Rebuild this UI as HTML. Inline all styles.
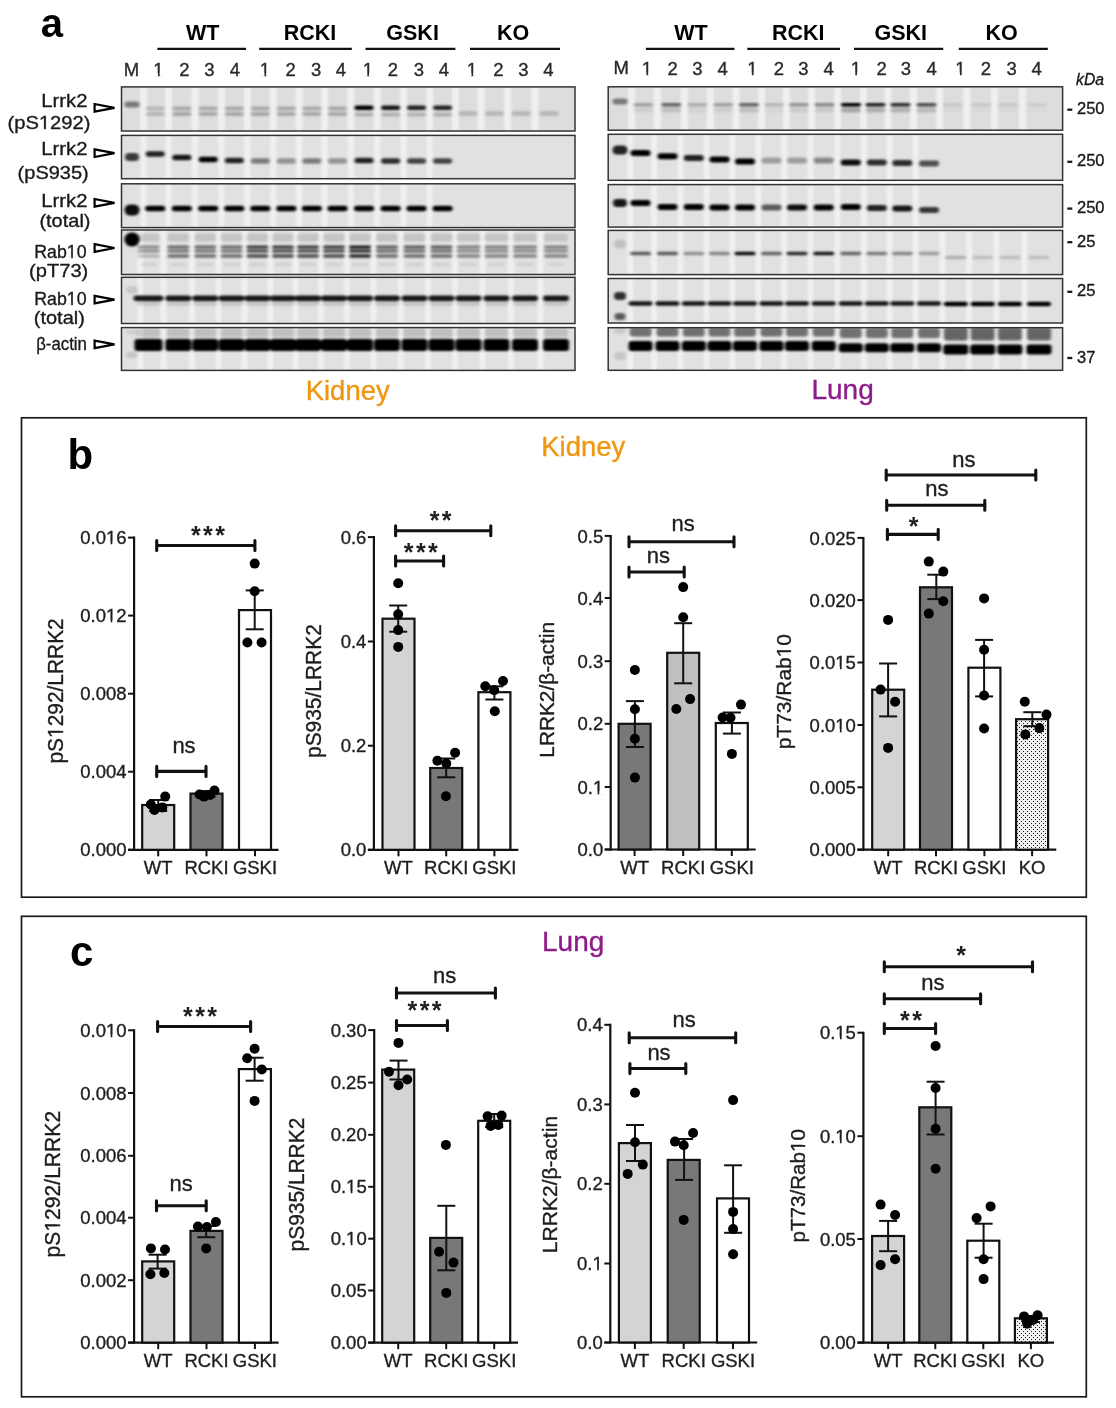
<!DOCTYPE html><html><head><meta charset="utf-8"><style>html,body{margin:0;padding:0;background:#fff;}svg{display:block;will-change:transform;}</style></head><body><svg width="1116" height="1408" viewBox="0 0 1116 1408" font-family='"Liberation Sans", sans-serif'>
<defs><pattern id="stip" width="4" height="4" patternUnits="userSpaceOnUse"><rect width="4" height="4" fill="#f0f0f0"/><rect x="1" y="1" width="1" height="1" fill="#1a1a1a"/><rect x="3" y="3" width="1" height="1" fill="#1a1a1a"/></pattern><filter id="bl1" x="-20%" y="-50%" width="140%" height="200%"><feGaussianBlur stdDeviation="1.5 1.2"/></filter><filter id="bl2" x="-20%" y="-50%" width="140%" height="200%"><feGaussianBlur stdDeviation="1.3 1"/></filter></defs>
<rect width="1116" height="1408" fill="#fff"/>
<rect x="21.5" y="417.8" width="1064.8" height="479.4" fill="none" stroke="#1a1a1a" stroke-width="1.7"/>
<rect x="21.5" y="916.3" width="1064.8" height="480.5" fill="none" stroke="#1a1a1a" stroke-width="1.7"/>
<text x="40.8" y="37.0" font-size="40" text-anchor="start" font-weight="bold" fill="#000" stroke="#000" stroke-width="0" >a</text>
<text x="67.5" y="468.8" font-size="42" text-anchor="start" font-weight="bold" fill="#000" stroke="#000" stroke-width="0" >b</text>
<text x="70.0" y="965.5" font-size="42" text-anchor="start" font-weight="bold" fill="#000" stroke="#000" stroke-width="0" >c</text>
<text x="347.7" y="400.4" font-size="27.5" text-anchor="middle" font-weight="normal" fill="#f0960f" stroke="#f0960f" stroke-width="0.35" >Kidney</text>
<text x="842.6" y="399.0" font-size="28" text-anchor="middle" font-weight="normal" fill="#8e1b8a" stroke="#8e1b8a" stroke-width="0.35" >Lung</text>
<text x="583.3" y="456.0" font-size="27.5" text-anchor="middle" font-weight="normal" fill="#f0960f" stroke="#f0960f" stroke-width="0.35" >Kidney</text>
<text x="573.2" y="951.4" font-size="28" text-anchor="middle" font-weight="normal" fill="#8e1b8a" stroke="#8e1b8a" stroke-width="0.35" >Lung</text>
<line x1="134.1" y1="536.6" x2="134.1" y2="850.8" stroke="#111" stroke-width="2.2"/>
<line x1="128.1" y1="849.8" x2="278.6" y2="849.8" stroke="#111" stroke-width="2.2"/>
<line x1="128.1" y1="537.6" x2="134.1" y2="537.6" stroke="#111" stroke-width="2"/>
<text x="126.6" y="544.2" font-size="18.5" text-anchor="end" font-weight="normal" fill="#1e1e1e" stroke="#1e1e1e" stroke-width="0.35" >0.016</text>
<line x1="128.1" y1="615.6" x2="134.1" y2="615.6" stroke="#111" stroke-width="2"/>
<text x="126.6" y="622.2" font-size="18.5" text-anchor="end" font-weight="normal" fill="#1e1e1e" stroke="#1e1e1e" stroke-width="0.35" >0.012</text>
<line x1="128.1" y1="693.7" x2="134.1" y2="693.7" stroke="#111" stroke-width="2"/>
<text x="126.6" y="700.3" font-size="18.5" text-anchor="end" font-weight="normal" fill="#1e1e1e" stroke="#1e1e1e" stroke-width="0.35" >0.008</text>
<line x1="128.1" y1="771.7" x2="134.1" y2="771.7" stroke="#111" stroke-width="2"/>
<text x="126.6" y="778.3" font-size="18.5" text-anchor="end" font-weight="normal" fill="#1e1e1e" stroke="#1e1e1e" stroke-width="0.35" >0.004</text>
<line x1="128.1" y1="849.8" x2="134.1" y2="849.8" stroke="#111" stroke-width="2"/>
<text x="126.6" y="856.4" font-size="18.5" text-anchor="end" font-weight="normal" fill="#1e1e1e" stroke="#1e1e1e" stroke-width="0.35" >0.000</text>
<rect x="142.2" y="805.0" width="32" height="44.8" fill="#d4d4d4" stroke="#111" stroke-width="2.2"/>
<rect x="190.5" y="793.6" width="32" height="56.2" fill="#787878" stroke="#111" stroke-width="2.2"/>
<rect x="239.0" y="610.1" width="32" height="239.7" fill="#ffffff" stroke="#111" stroke-width="2.2"/>
<line x1="158.2" y1="849.8" x2="158.2" y2="856.3" stroke="#111" stroke-width="2"/>
<text x="158.2" y="874.0" font-size="18.5" text-anchor="middle" font-weight="normal" fill="#1e1e1e" stroke="#1e1e1e" stroke-width="0.35" >WT</text>
<line x1="206.5" y1="849.8" x2="206.5" y2="856.3" stroke="#111" stroke-width="2"/>
<text x="206.5" y="874.0" font-size="18.5" text-anchor="middle" font-weight="normal" fill="#1e1e1e" stroke="#1e1e1e" stroke-width="0.35" >RCKI</text>
<line x1="255.0" y1="849.8" x2="255.0" y2="856.3" stroke="#111" stroke-width="2"/>
<text x="255.0" y="874.0" font-size="18.5" text-anchor="middle" font-weight="normal" fill="#1e1e1e" stroke="#1e1e1e" stroke-width="0.35" >GSKI</text>
<line x1="158.2" y1="800.0" x2="158.2" y2="811.0" stroke="#111" stroke-width="2"/>
<line x1="149.2" y1="800.0" x2="167.2" y2="800.0" stroke="#111" stroke-width="2"/>
<line x1="149.2" y1="811.0" x2="167.2" y2="811.0" stroke="#111" stroke-width="2"/>
<line x1="206.5" y1="791.0" x2="206.5" y2="797.0" stroke="#111" stroke-width="2"/>
<line x1="197.5" y1="791.0" x2="215.5" y2="791.0" stroke="#111" stroke-width="2"/>
<line x1="197.5" y1="797.0" x2="215.5" y2="797.0" stroke="#111" stroke-width="2"/>
<line x1="254.7" y1="590.4" x2="254.7" y2="629.3" stroke="#111" stroke-width="2"/>
<line x1="245.7" y1="590.4" x2="263.7" y2="590.4" stroke="#111" stroke-width="2"/>
<line x1="245.7" y1="629.3" x2="263.7" y2="629.3" stroke="#111" stroke-width="2"/>
<circle cx="150.8" cy="804.5" r="5.0" fill="#000"/>
<circle cx="154.4" cy="810.0" r="5.0" fill="#000"/>
<circle cx="162.3" cy="807.4" r="5.0" fill="#000"/>
<circle cx="165.2" cy="796.6" r="5.0" fill="#000"/>
<circle cx="199.5" cy="794.5" r="5.0" fill="#000"/>
<circle cx="204.0" cy="796.6" r="5.0" fill="#000"/>
<circle cx="210.0" cy="795.0" r="5.0" fill="#000"/>
<circle cx="214.5" cy="790.5" r="5.0" fill="#000"/>
<circle cx="254.7" cy="563.6" r="5.0" fill="#000"/>
<circle cx="254.7" cy="591.2" r="5.0" fill="#000"/>
<circle cx="247.4" cy="642.5" r="5.0" fill="#000"/>
<circle cx="261.6" cy="642.5" r="5.0" fill="#000"/>
<path d="M156.7 540.5V550.5M156.7 545.5H254.9M254.9 540.5V550.5" stroke="#111" stroke-width="3.1" fill="none" stroke-linecap="round"/>
<text x="209.1" y="543.5" font-size="25" text-anchor="middle" font-weight="bold" fill="#1e1e1e" stroke="#1e1e1e" stroke-width="0" letter-spacing="2.4">***</text>
<path d="M156.7 766.4V776.4M156.7 771.4H206.0M206.0 766.4V776.4" stroke="#111" stroke-width="3.1" fill="none" stroke-linecap="round"/>
<text x="184.0" y="752.6" font-size="22" text-anchor="middle" font-weight="normal" fill="#1e1e1e" stroke="#1e1e1e" stroke-width="0.35" >ns</text>
<text transform="translate(62.85,763.50) rotate(-90)" x="0" y="0" font-size="21.67" fill="#1e1e1e" stroke="#1e1e1e" stroke-width="0.35" textLength="145.20" lengthAdjust="spacingAndGlyphs">pS1292/LRRK2</text>
<line x1="373.9" y1="536.1" x2="373.9" y2="850.8" stroke="#111" stroke-width="2.2"/>
<line x1="367.9" y1="849.8" x2="518.4" y2="849.8" stroke="#111" stroke-width="2.2"/>
<line x1="367.9" y1="537.1" x2="373.9" y2="537.1" stroke="#111" stroke-width="2"/>
<text x="366.4" y="543.7" font-size="18.5" text-anchor="end" font-weight="normal" fill="#1e1e1e" stroke="#1e1e1e" stroke-width="0.35" >0.6</text>
<line x1="367.9" y1="641.5" x2="373.9" y2="641.5" stroke="#111" stroke-width="2"/>
<text x="366.4" y="648.1" font-size="18.5" text-anchor="end" font-weight="normal" fill="#1e1e1e" stroke="#1e1e1e" stroke-width="0.35" >0.4</text>
<line x1="367.9" y1="745.7" x2="373.9" y2="745.7" stroke="#111" stroke-width="2"/>
<text x="366.4" y="752.3" font-size="18.5" text-anchor="end" font-weight="normal" fill="#1e1e1e" stroke="#1e1e1e" stroke-width="0.35" >0.2</text>
<line x1="367.9" y1="849.8" x2="373.9" y2="849.8" stroke="#111" stroke-width="2"/>
<text x="366.4" y="856.4" font-size="18.5" text-anchor="end" font-weight="normal" fill="#1e1e1e" stroke="#1e1e1e" stroke-width="0.35" >0.0</text>
<rect x="382.5" y="618.7" width="32" height="231.1" fill="#d4d4d4" stroke="#111" stroke-width="2.2"/>
<rect x="430.2" y="768.0" width="32" height="81.8" fill="#787878" stroke="#111" stroke-width="2.2"/>
<rect x="478.4" y="692.2" width="32" height="157.6" fill="#ffffff" stroke="#111" stroke-width="2.2"/>
<line x1="398.5" y1="849.8" x2="398.5" y2="856.3" stroke="#111" stroke-width="2"/>
<text x="398.5" y="874.0" font-size="18.5" text-anchor="middle" font-weight="normal" fill="#1e1e1e" stroke="#1e1e1e" stroke-width="0.35" >WT</text>
<line x1="446.2" y1="849.8" x2="446.2" y2="856.3" stroke="#111" stroke-width="2"/>
<text x="446.2" y="874.0" font-size="18.5" text-anchor="middle" font-weight="normal" fill="#1e1e1e" stroke="#1e1e1e" stroke-width="0.35" >RCKI</text>
<line x1="494.4" y1="849.8" x2="494.4" y2="856.3" stroke="#111" stroke-width="2"/>
<text x="494.4" y="874.0" font-size="18.5" text-anchor="middle" font-weight="normal" fill="#1e1e1e" stroke="#1e1e1e" stroke-width="0.35" >GSKI</text>
<line x1="398.2" y1="605.5" x2="398.2" y2="631.7" stroke="#111" stroke-width="2"/>
<line x1="389.2" y1="605.5" x2="407.2" y2="605.5" stroke="#111" stroke-width="2"/>
<line x1="389.2" y1="631.7" x2="407.2" y2="631.7" stroke="#111" stroke-width="2"/>
<line x1="446.2" y1="758.5" x2="446.2" y2="777.3" stroke="#111" stroke-width="2"/>
<line x1="437.2" y1="758.5" x2="455.2" y2="758.5" stroke="#111" stroke-width="2"/>
<line x1="437.2" y1="777.3" x2="455.2" y2="777.3" stroke="#111" stroke-width="2"/>
<line x1="494.4" y1="686.3" x2="494.4" y2="699.5" stroke="#111" stroke-width="2"/>
<line x1="485.4" y1="686.3" x2="503.4" y2="686.3" stroke="#111" stroke-width="2"/>
<line x1="485.4" y1="699.5" x2="503.4" y2="699.5" stroke="#111" stroke-width="2"/>
<circle cx="398.2" cy="583.2" r="5.0" fill="#000"/>
<circle cx="398.2" cy="614.3" r="5.0" fill="#000"/>
<circle cx="398.2" cy="630.1" r="5.0" fill="#000"/>
<circle cx="398.2" cy="646.9" r="5.0" fill="#000"/>
<circle cx="437.4" cy="760.7" r="5.0" fill="#000"/>
<circle cx="446.3" cy="763.5" r="5.0" fill="#000"/>
<circle cx="455.1" cy="752.8" r="5.0" fill="#000"/>
<circle cx="445.9" cy="796.2" r="5.0" fill="#000"/>
<circle cx="485.3" cy="686.3" r="5.0" fill="#000"/>
<circle cx="494.2" cy="690.2" r="5.0" fill="#000"/>
<circle cx="503.0" cy="681.0" r="5.0" fill="#000"/>
<circle cx="494.8" cy="711.3" r="5.0" fill="#000"/>
<path d="M395.6 525.7V535.7M395.6 530.7H490.8M490.8 525.7V535.7" stroke="#111" stroke-width="3.1" fill="none" stroke-linecap="round"/>
<text x="441.8" y="528.8" font-size="25" text-anchor="middle" font-weight="bold" fill="#1e1e1e" stroke="#1e1e1e" stroke-width="0" letter-spacing="2.4">**</text>
<path d="M395.6 556.0V566.0M395.6 561.0H443.6M443.6 556.0V566.0" stroke="#111" stroke-width="3.1" fill="none" stroke-linecap="round"/>
<text x="422.0" y="561.1" font-size="25" text-anchor="middle" font-weight="bold" fill="#1e1e1e" stroke="#1e1e1e" stroke-width="0" letter-spacing="2.4">***</text>
<text transform="translate(321.04,758.00) rotate(-90)" x="0" y="0" font-size="21.24" fill="#1e1e1e" stroke="#1e1e1e" stroke-width="0.35" textLength="133.80" lengthAdjust="spacingAndGlyphs">pS935/LRRK2</text>
<line x1="610.7" y1="534.9" x2="610.7" y2="850.5" stroke="#111" stroke-width="2.2"/>
<line x1="604.7" y1="849.5" x2="755.7" y2="849.5" stroke="#111" stroke-width="2.2"/>
<line x1="604.7" y1="535.9" x2="610.7" y2="535.9" stroke="#111" stroke-width="2"/>
<text x="603.2" y="542.5" font-size="18.5" text-anchor="end" font-weight="normal" fill="#1e1e1e" stroke="#1e1e1e" stroke-width="0.35" >0.5</text>
<line x1="604.7" y1="598.0" x2="610.7" y2="598.0" stroke="#111" stroke-width="2"/>
<text x="603.2" y="604.6" font-size="18.5" text-anchor="end" font-weight="normal" fill="#1e1e1e" stroke="#1e1e1e" stroke-width="0.35" >0.4</text>
<line x1="604.7" y1="661.2" x2="610.7" y2="661.2" stroke="#111" stroke-width="2"/>
<text x="603.2" y="667.8" font-size="18.5" text-anchor="end" font-weight="normal" fill="#1e1e1e" stroke="#1e1e1e" stroke-width="0.35" >0.3</text>
<line x1="604.7" y1="723.8" x2="610.7" y2="723.8" stroke="#111" stroke-width="2"/>
<text x="603.2" y="730.4" font-size="18.5" text-anchor="end" font-weight="normal" fill="#1e1e1e" stroke="#1e1e1e" stroke-width="0.35" >0.2</text>
<line x1="604.7" y1="787.0" x2="610.7" y2="787.0" stroke="#111" stroke-width="2"/>
<text x="603.2" y="793.6" font-size="18.5" text-anchor="end" font-weight="normal" fill="#1e1e1e" stroke="#1e1e1e" stroke-width="0.35" >0.1</text>
<line x1="604.7" y1="849.5" x2="610.7" y2="849.5" stroke="#111" stroke-width="2"/>
<text x="603.2" y="856.1" font-size="18.5" text-anchor="end" font-weight="normal" fill="#1e1e1e" stroke="#1e1e1e" stroke-width="0.35" >0.0</text>
<rect x="618.6" y="723.8" width="32" height="125.7" fill="#787878" stroke="#111" stroke-width="2.2"/>
<rect x="667.2" y="652.8" width="32" height="196.7" fill="#c0c0c0" stroke="#111" stroke-width="2.2"/>
<rect x="715.8" y="723.0" width="32" height="126.5" fill="#ffffff" stroke="#111" stroke-width="2.2"/>
<line x1="634.6" y1="849.5" x2="634.6" y2="856.0" stroke="#111" stroke-width="2"/>
<text x="634.6" y="873.7" font-size="18.5" text-anchor="middle" font-weight="normal" fill="#1e1e1e" stroke="#1e1e1e" stroke-width="0.35" >WT</text>
<line x1="683.2" y1="849.5" x2="683.2" y2="856.0" stroke="#111" stroke-width="2"/>
<text x="683.2" y="873.7" font-size="18.5" text-anchor="middle" font-weight="normal" fill="#1e1e1e" stroke="#1e1e1e" stroke-width="0.35" >RCKI</text>
<line x1="731.8" y1="849.5" x2="731.8" y2="856.0" stroke="#111" stroke-width="2"/>
<text x="731.8" y="873.7" font-size="18.5" text-anchor="middle" font-weight="normal" fill="#1e1e1e" stroke="#1e1e1e" stroke-width="0.35" >GSKI</text>
<line x1="634.9" y1="701.1" x2="634.9" y2="747.0" stroke="#111" stroke-width="2"/>
<line x1="625.9" y1="701.1" x2="643.9" y2="701.1" stroke="#111" stroke-width="2"/>
<line x1="625.9" y1="747.0" x2="643.9" y2="747.0" stroke="#111" stroke-width="2"/>
<line x1="683.2" y1="623.2" x2="683.2" y2="683.3" stroke="#111" stroke-width="2"/>
<line x1="674.2" y1="623.2" x2="692.2" y2="623.2" stroke="#111" stroke-width="2"/>
<line x1="674.2" y1="683.3" x2="692.2" y2="683.3" stroke="#111" stroke-width="2"/>
<line x1="731.9" y1="712.5" x2="731.9" y2="733.6" stroke="#111" stroke-width="2"/>
<line x1="722.9" y1="712.5" x2="740.9" y2="712.5" stroke="#111" stroke-width="2"/>
<line x1="722.9" y1="733.6" x2="740.9" y2="733.6" stroke="#111" stroke-width="2"/>
<circle cx="634.9" cy="670.0" r="5.0" fill="#000"/>
<circle cx="634.9" cy="709.2" r="5.0" fill="#000"/>
<circle cx="634.9" cy="738.7" r="5.0" fill="#000"/>
<circle cx="634.9" cy="777.6" r="5.0" fill="#000"/>
<circle cx="683.2" cy="587.1" r="5.0" fill="#000"/>
<circle cx="683.2" cy="617.3" r="5.0" fill="#000"/>
<circle cx="676.3" cy="709.0" r="5.0" fill="#000"/>
<circle cx="690.1" cy="699.1" r="5.0" fill="#000"/>
<circle cx="722.6" cy="717.5" r="5.0" fill="#000"/>
<circle cx="730.5" cy="717.8" r="5.0" fill="#000"/>
<circle cx="741.0" cy="704.6" r="5.0" fill="#000"/>
<circle cx="731.9" cy="753.9" r="5.0" fill="#000"/>
<path d="M629.0 536.8V546.8M629.0 541.8H734.0M734.0 536.8V546.8" stroke="#111" stroke-width="3.1" fill="none" stroke-linecap="round"/>
<text x="683.2" y="530.9" font-size="22" text-anchor="middle" font-weight="normal" fill="#1e1e1e" stroke="#1e1e1e" stroke-width="0.35" >ns</text>
<path d="M629.0 567.0V577.0M629.0 572.0H684.2M684.2 567.0V577.0" stroke="#111" stroke-width="3.1" fill="none" stroke-linecap="round"/>
<text x="658.4" y="562.9" font-size="22" text-anchor="middle" font-weight="normal" fill="#1e1e1e" stroke="#1e1e1e" stroke-width="0.35" >ns</text>
<text transform="translate(554.18,757.66) rotate(-90)" x="0" y="0" font-size="19.63" fill="#1e1e1e" stroke="#1e1e1e" stroke-width="0.35" textLength="135.66" lengthAdjust="spacingAndGlyphs">LRRK2/&#946;-actin</text>
<line x1="863.4" y1="536.9" x2="863.4" y2="850.7" stroke="#111" stroke-width="2.2"/>
<line x1="857.4" y1="849.7" x2="1056.3" y2="849.7" stroke="#111" stroke-width="2.2"/>
<line x1="857.4" y1="537.9" x2="863.4" y2="537.9" stroke="#111" stroke-width="2"/>
<text x="855.9" y="544.5" font-size="18.5" text-anchor="end" font-weight="normal" fill="#1e1e1e" stroke="#1e1e1e" stroke-width="0.35" >0.025</text>
<line x1="857.4" y1="600.1" x2="863.4" y2="600.1" stroke="#111" stroke-width="2"/>
<text x="855.9" y="606.7" font-size="18.5" text-anchor="end" font-weight="normal" fill="#1e1e1e" stroke="#1e1e1e" stroke-width="0.35" >0.020</text>
<line x1="857.4" y1="662.5" x2="863.4" y2="662.5" stroke="#111" stroke-width="2"/>
<text x="855.9" y="669.1" font-size="18.5" text-anchor="end" font-weight="normal" fill="#1e1e1e" stroke="#1e1e1e" stroke-width="0.35" >0.015</text>
<line x1="857.4" y1="725.0" x2="863.4" y2="725.0" stroke="#111" stroke-width="2"/>
<text x="855.9" y="731.6" font-size="18.5" text-anchor="end" font-weight="normal" fill="#1e1e1e" stroke="#1e1e1e" stroke-width="0.35" >0.010</text>
<line x1="857.4" y1="787.3" x2="863.4" y2="787.3" stroke="#111" stroke-width="2"/>
<text x="855.9" y="793.9" font-size="18.5" text-anchor="end" font-weight="normal" fill="#1e1e1e" stroke="#1e1e1e" stroke-width="0.35" >0.005</text>
<line x1="857.4" y1="849.7" x2="863.4" y2="849.7" stroke="#111" stroke-width="2"/>
<text x="855.9" y="856.3" font-size="18.5" text-anchor="end" font-weight="normal" fill="#1e1e1e" stroke="#1e1e1e" stroke-width="0.35" >0.000</text>
<rect x="872.2" y="689.7" width="32" height="160.0" fill="#d4d4d4" stroke="#111" stroke-width="2.2"/>
<rect x="920.0" y="587.3" width="32" height="262.4" fill="#787878" stroke="#111" stroke-width="2.2"/>
<rect x="968.4" y="667.7" width="32" height="182.0" fill="#ffffff" stroke="#111" stroke-width="2.2"/>
<rect x="1016.1" y="719.2" width="32" height="130.5" fill="url(#stip)" stroke="#111" stroke-width="2.2"/>
<line x1="888.2" y1="849.7" x2="888.2" y2="856.2" stroke="#111" stroke-width="2"/>
<text x="888.2" y="873.9" font-size="18.5" text-anchor="middle" font-weight="normal" fill="#1e1e1e" stroke="#1e1e1e" stroke-width="0.35" >WT</text>
<line x1="936.0" y1="849.7" x2="936.0" y2="856.2" stroke="#111" stroke-width="2"/>
<text x="936.0" y="873.9" font-size="18.5" text-anchor="middle" font-weight="normal" fill="#1e1e1e" stroke="#1e1e1e" stroke-width="0.35" >RCKI</text>
<line x1="984.4" y1="849.7" x2="984.4" y2="856.2" stroke="#111" stroke-width="2"/>
<text x="984.4" y="873.9" font-size="18.5" text-anchor="middle" font-weight="normal" fill="#1e1e1e" stroke="#1e1e1e" stroke-width="0.35" >GSKI</text>
<line x1="1032.1" y1="849.7" x2="1032.1" y2="856.2" stroke="#111" stroke-width="2"/>
<text x="1032.1" y="873.9" font-size="18.5" text-anchor="middle" font-weight="normal" fill="#1e1e1e" stroke="#1e1e1e" stroke-width="0.35" >KO</text>
<line x1="888.1" y1="663.5" x2="888.1" y2="716.4" stroke="#111" stroke-width="2"/>
<line x1="879.1" y1="663.5" x2="897.1" y2="663.5" stroke="#111" stroke-width="2"/>
<line x1="879.1" y1="716.4" x2="897.1" y2="716.4" stroke="#111" stroke-width="2"/>
<line x1="936.3" y1="574.7" x2="936.3" y2="599.1" stroke="#111" stroke-width="2"/>
<line x1="927.3" y1="574.7" x2="945.3" y2="574.7" stroke="#111" stroke-width="2"/>
<line x1="927.3" y1="599.1" x2="945.3" y2="599.1" stroke="#111" stroke-width="2"/>
<line x1="984.1" y1="639.9" x2="984.1" y2="696.4" stroke="#111" stroke-width="2"/>
<line x1="975.1" y1="639.9" x2="993.1" y2="639.9" stroke="#111" stroke-width="2"/>
<line x1="975.1" y1="696.4" x2="993.1" y2="696.4" stroke="#111" stroke-width="2"/>
<line x1="1032.3" y1="712.2" x2="1032.3" y2="726.2" stroke="#111" stroke-width="2"/>
<line x1="1023.3" y1="712.2" x2="1041.3" y2="712.2" stroke="#111" stroke-width="2"/>
<line x1="1023.3" y1="726.2" x2="1041.3" y2="726.2" stroke="#111" stroke-width="2"/>
<circle cx="888.1" cy="619.9" r="5.0" fill="#000"/>
<circle cx="880.6" cy="689.6" r="5.0" fill="#000"/>
<circle cx="895.1" cy="701.7" r="5.0" fill="#000"/>
<circle cx="888.1" cy="747.9" r="5.0" fill="#000"/>
<circle cx="928.8" cy="561.6" r="5.0" fill="#000"/>
<circle cx="943.3" cy="571.6" r="5.0" fill="#000"/>
<circle cx="943.3" cy="601.2" r="5.0" fill="#000"/>
<circle cx="928.8" cy="613.6" r="5.0" fill="#000"/>
<circle cx="984.1" cy="598.4" r="5.0" fill="#000"/>
<circle cx="984.1" cy="649.8" r="5.0" fill="#000"/>
<circle cx="984.1" cy="695.5" r="5.0" fill="#000"/>
<circle cx="984.1" cy="728.5" r="5.0" fill="#000"/>
<circle cx="1024.8" cy="701.7" r="5.0" fill="#000"/>
<circle cx="1046.5" cy="714.6" r="5.0" fill="#000"/>
<circle cx="1039.3" cy="728.1" r="5.0" fill="#000"/>
<circle cx="1025.3" cy="734.4" r="5.0" fill="#000"/>
<path d="M886.2 470.0V480.0M886.2 475.0H1035.8M1035.8 470.0V480.0" stroke="#111" stroke-width="3.1" fill="none" stroke-linecap="round"/>
<text x="963.8" y="466.6" font-size="22" text-anchor="middle" font-weight="normal" fill="#1e1e1e" stroke="#1e1e1e" stroke-width="0.35" >ns</text>
<path d="M886.7 500.2V510.2M886.7 505.2H984.8M984.8 500.2V510.2" stroke="#111" stroke-width="3.1" fill="none" stroke-linecap="round"/>
<text x="936.9" y="495.7" font-size="22" text-anchor="middle" font-weight="normal" fill="#1e1e1e" stroke="#1e1e1e" stroke-width="0.35" >ns</text>
<path d="M887.4 529.4V539.4M887.4 534.4H938.2M938.2 529.4V539.4" stroke="#111" stroke-width="3.1" fill="none" stroke-linecap="round"/>
<text x="914.7" y="535.3" font-size="25" text-anchor="middle" font-weight="bold" fill="#1e1e1e" stroke="#1e1e1e" stroke-width="0" letter-spacing="2.4">*</text>
<text transform="translate(791.44,749.30) rotate(-90)" x="0" y="0" font-size="20.28" fill="#1e1e1e" stroke="#1e1e1e" stroke-width="0.35" textLength="115.27" lengthAdjust="spacingAndGlyphs">pT73/Rab10</text>
<line x1="134.1" y1="1029.3" x2="134.1" y2="1343.6" stroke="#111" stroke-width="2.2"/>
<line x1="128.1" y1="1342.6" x2="278.6" y2="1342.6" stroke="#111" stroke-width="2.2"/>
<line x1="128.1" y1="1030.3" x2="134.1" y2="1030.3" stroke="#111" stroke-width="2"/>
<text x="126.6" y="1036.9" font-size="18.5" text-anchor="end" font-weight="normal" fill="#1e1e1e" stroke="#1e1e1e" stroke-width="0.35" >0.010</text>
<line x1="128.1" y1="1093.0" x2="134.1" y2="1093.0" stroke="#111" stroke-width="2"/>
<text x="126.6" y="1099.6" font-size="18.5" text-anchor="end" font-weight="normal" fill="#1e1e1e" stroke="#1e1e1e" stroke-width="0.35" >0.008</text>
<line x1="128.1" y1="1155.8" x2="134.1" y2="1155.8" stroke="#111" stroke-width="2"/>
<text x="126.6" y="1162.4" font-size="18.5" text-anchor="end" font-weight="normal" fill="#1e1e1e" stroke="#1e1e1e" stroke-width="0.35" >0.006</text>
<line x1="128.1" y1="1217.7" x2="134.1" y2="1217.7" stroke="#111" stroke-width="2"/>
<text x="126.6" y="1224.3" font-size="18.5" text-anchor="end" font-weight="normal" fill="#1e1e1e" stroke="#1e1e1e" stroke-width="0.35" >0.004</text>
<line x1="128.1" y1="1280.2" x2="134.1" y2="1280.2" stroke="#111" stroke-width="2"/>
<text x="126.6" y="1286.8" font-size="18.5" text-anchor="end" font-weight="normal" fill="#1e1e1e" stroke="#1e1e1e" stroke-width="0.35" >0.002</text>
<line x1="128.1" y1="1342.6" x2="134.1" y2="1342.6" stroke="#111" stroke-width="2"/>
<text x="126.6" y="1349.2" font-size="18.5" text-anchor="end" font-weight="normal" fill="#1e1e1e" stroke="#1e1e1e" stroke-width="0.35" >0.000</text>
<rect x="142.2" y="1261.4" width="32" height="81.2" fill="#d4d4d4" stroke="#111" stroke-width="2.2"/>
<rect x="190.5" y="1230.9" width="32" height="111.7" fill="#787878" stroke="#111" stroke-width="2.2"/>
<rect x="238.9" y="1069.1" width="32" height="273.5" fill="#ffffff" stroke="#111" stroke-width="2.2"/>
<line x1="158.2" y1="1342.6" x2="158.2" y2="1349.1" stroke="#111" stroke-width="2"/>
<text x="158.2" y="1366.8" font-size="18.5" text-anchor="middle" font-weight="normal" fill="#1e1e1e" stroke="#1e1e1e" stroke-width="0.35" >WT</text>
<line x1="206.5" y1="1342.6" x2="206.5" y2="1349.1" stroke="#111" stroke-width="2"/>
<text x="206.5" y="1366.8" font-size="18.5" text-anchor="middle" font-weight="normal" fill="#1e1e1e" stroke="#1e1e1e" stroke-width="0.35" >RCKI</text>
<line x1="254.9" y1="1342.6" x2="254.9" y2="1349.1" stroke="#111" stroke-width="2"/>
<text x="254.9" y="1366.8" font-size="18.5" text-anchor="middle" font-weight="normal" fill="#1e1e1e" stroke="#1e1e1e" stroke-width="0.35" >GSKI</text>
<line x1="157.6" y1="1254.7" x2="157.6" y2="1268.6" stroke="#111" stroke-width="2"/>
<line x1="148.6" y1="1254.7" x2="166.6" y2="1254.7" stroke="#111" stroke-width="2"/>
<line x1="148.6" y1="1268.6" x2="166.6" y2="1268.6" stroke="#111" stroke-width="2"/>
<line x1="206.2" y1="1226.0" x2="206.2" y2="1237.2" stroke="#111" stroke-width="2"/>
<line x1="197.2" y1="1226.0" x2="215.2" y2="1226.0" stroke="#111" stroke-width="2"/>
<line x1="197.2" y1="1237.2" x2="215.2" y2="1237.2" stroke="#111" stroke-width="2"/>
<line x1="254.6" y1="1057.7" x2="254.6" y2="1080.7" stroke="#111" stroke-width="2"/>
<line x1="245.6" y1="1057.7" x2="263.6" y2="1057.7" stroke="#111" stroke-width="2"/>
<line x1="245.6" y1="1080.7" x2="263.6" y2="1080.7" stroke="#111" stroke-width="2"/>
<circle cx="150.9" cy="1248.4" r="5.0" fill="#000"/>
<circle cx="165.0" cy="1249.5" r="5.0" fill="#000"/>
<circle cx="150.4" cy="1274.2" r="5.0" fill="#000"/>
<circle cx="164.3" cy="1273.0" r="5.0" fill="#000"/>
<circle cx="197.9" cy="1226.5" r="5.0" fill="#000"/>
<circle cx="206.9" cy="1227.1" r="5.0" fill="#000"/>
<circle cx="215.9" cy="1222.0" r="5.0" fill="#000"/>
<circle cx="206.2" cy="1248.4" r="5.0" fill="#000"/>
<circle cx="254.6" cy="1048.7" r="5.0" fill="#000"/>
<circle cx="247.2" cy="1058.3" r="5.0" fill="#000"/>
<circle cx="261.8" cy="1069.5" r="5.0" fill="#000"/>
<circle cx="254.6" cy="1100.9" r="5.0" fill="#000"/>
<path d="M157.6 1021.5V1031.5M157.6 1026.5H250.6M250.6 1021.5V1031.5" stroke="#111" stroke-width="3.1" fill="none" stroke-linecap="round"/>
<text x="201.2" y="1024.8" font-size="25" text-anchor="middle" font-weight="bold" fill="#1e1e1e" stroke="#1e1e1e" stroke-width="0" letter-spacing="2.4">***</text>
<path d="M156.5 1200.8V1210.8M156.5 1205.8H206.2M206.2 1200.8V1210.8" stroke="#111" stroke-width="3.1" fill="none" stroke-linecap="round"/>
<text x="181.1" y="1190.8" font-size="22" text-anchor="middle" font-weight="normal" fill="#1e1e1e" stroke="#1e1e1e" stroke-width="0.35" >ns</text>
<text transform="translate(59.75,1257.41) rotate(-90)" x="0" y="0" font-size="21.67" fill="#1e1e1e" stroke="#1e1e1e" stroke-width="0.35" textLength="146.52" lengthAdjust="spacingAndGlyphs">pS1292/LRRK2</text>
<line x1="374.2" y1="1029.1" x2="374.2" y2="1343.6" stroke="#111" stroke-width="2.2"/>
<line x1="368.2" y1="1342.6" x2="518.0" y2="1342.6" stroke="#111" stroke-width="2.2"/>
<line x1="368.2" y1="1030.1" x2="374.2" y2="1030.1" stroke="#111" stroke-width="2"/>
<text x="366.7" y="1036.7" font-size="18.5" text-anchor="end" font-weight="normal" fill="#1e1e1e" stroke="#1e1e1e" stroke-width="0.35" >0.30</text>
<line x1="368.2" y1="1082.6" x2="374.2" y2="1082.6" stroke="#111" stroke-width="2"/>
<text x="366.7" y="1089.2" font-size="18.5" text-anchor="end" font-weight="normal" fill="#1e1e1e" stroke="#1e1e1e" stroke-width="0.35" >0.25</text>
<line x1="368.2" y1="1134.8" x2="374.2" y2="1134.8" stroke="#111" stroke-width="2"/>
<text x="366.7" y="1141.4" font-size="18.5" text-anchor="end" font-weight="normal" fill="#1e1e1e" stroke="#1e1e1e" stroke-width="0.35" >0.20</text>
<line x1="368.2" y1="1186.8" x2="374.2" y2="1186.8" stroke="#111" stroke-width="2"/>
<text x="366.7" y="1193.4" font-size="18.5" text-anchor="end" font-weight="normal" fill="#1e1e1e" stroke="#1e1e1e" stroke-width="0.35" >0.15</text>
<line x1="368.2" y1="1238.7" x2="374.2" y2="1238.7" stroke="#111" stroke-width="2"/>
<text x="366.7" y="1245.3" font-size="18.5" text-anchor="end" font-weight="normal" fill="#1e1e1e" stroke="#1e1e1e" stroke-width="0.35" >0.10</text>
<line x1="368.2" y1="1290.5" x2="374.2" y2="1290.5" stroke="#111" stroke-width="2"/>
<text x="366.7" y="1297.1" font-size="18.5" text-anchor="end" font-weight="normal" fill="#1e1e1e" stroke="#1e1e1e" stroke-width="0.35" >0.05</text>
<line x1="368.2" y1="1342.6" x2="374.2" y2="1342.6" stroke="#111" stroke-width="2"/>
<text x="366.7" y="1349.2" font-size="18.5" text-anchor="end" font-weight="normal" fill="#1e1e1e" stroke="#1e1e1e" stroke-width="0.35" >0.00</text>
<rect x="382.2" y="1069.6" width="32" height="273.0" fill="#d4d4d4" stroke="#111" stroke-width="2.2"/>
<rect x="430.2" y="1237.9" width="32" height="104.7" fill="#787878" stroke="#111" stroke-width="2.2"/>
<rect x="478.2" y="1120.8" width="32" height="221.8" fill="#ffffff" stroke="#111" stroke-width="2.2"/>
<line x1="398.2" y1="1342.6" x2="398.2" y2="1349.1" stroke="#111" stroke-width="2"/>
<text x="398.2" y="1366.8" font-size="18.5" text-anchor="middle" font-weight="normal" fill="#1e1e1e" stroke="#1e1e1e" stroke-width="0.35" >WT</text>
<line x1="446.2" y1="1342.6" x2="446.2" y2="1349.1" stroke="#111" stroke-width="2"/>
<text x="446.2" y="1366.8" font-size="18.5" text-anchor="middle" font-weight="normal" fill="#1e1e1e" stroke="#1e1e1e" stroke-width="0.35" >RCKI</text>
<line x1="494.2" y1="1342.6" x2="494.2" y2="1349.1" stroke="#111" stroke-width="2"/>
<text x="494.2" y="1366.8" font-size="18.5" text-anchor="middle" font-weight="normal" fill="#1e1e1e" stroke="#1e1e1e" stroke-width="0.35" >GSKI</text>
<line x1="398.5" y1="1060.6" x2="398.5" y2="1079.5" stroke="#111" stroke-width="2"/>
<line x1="389.5" y1="1060.6" x2="407.5" y2="1060.6" stroke="#111" stroke-width="2"/>
<line x1="389.5" y1="1079.5" x2="407.5" y2="1079.5" stroke="#111" stroke-width="2"/>
<line x1="446.3" y1="1205.8" x2="446.3" y2="1270.3" stroke="#111" stroke-width="2"/>
<line x1="437.3" y1="1205.8" x2="455.3" y2="1205.8" stroke="#111" stroke-width="2"/>
<line x1="437.3" y1="1270.3" x2="455.3" y2="1270.3" stroke="#111" stroke-width="2"/>
<line x1="494.2" y1="1114.0" x2="494.2" y2="1127.0" stroke="#111" stroke-width="2"/>
<line x1="485.2" y1="1114.0" x2="503.2" y2="1114.0" stroke="#111" stroke-width="2"/>
<line x1="485.2" y1="1127.0" x2="503.2" y2="1127.0" stroke="#111" stroke-width="2"/>
<circle cx="398.5" cy="1042.9" r="5.0" fill="#000"/>
<circle cx="389.0" cy="1071.7" r="5.0" fill="#000"/>
<circle cx="407.2" cy="1079.5" r="5.0" fill="#000"/>
<circle cx="398.5" cy="1085.3" r="5.0" fill="#000"/>
<circle cx="445.9" cy="1144.9" r="5.0" fill="#000"/>
<circle cx="439.1" cy="1251.7" r="5.0" fill="#000"/>
<circle cx="453.5" cy="1262.6" r="5.0" fill="#000"/>
<circle cx="446.3" cy="1292.9" r="5.0" fill="#000"/>
<circle cx="487.6" cy="1116.2" r="5.0" fill="#000"/>
<circle cx="501.6" cy="1115.6" r="5.0" fill="#000"/>
<circle cx="490.6" cy="1125.9" r="5.0" fill="#000"/>
<circle cx="498.3" cy="1124.9" r="5.0" fill="#000"/>
<path d="M396.5 988.0V998.0M396.5 993.0H495.4M495.4 988.0V998.0" stroke="#111" stroke-width="3.1" fill="none" stroke-linecap="round"/>
<text x="444.7" y="982.9" font-size="22" text-anchor="middle" font-weight="normal" fill="#1e1e1e" stroke="#1e1e1e" stroke-width="0.35" >ns</text>
<path d="M396.5 1020.5V1030.5M396.5 1025.5H447.4M447.4 1020.5V1030.5" stroke="#111" stroke-width="3.1" fill="none" stroke-linecap="round"/>
<text x="425.7" y="1019.4" font-size="25" text-anchor="middle" font-weight="bold" fill="#1e1e1e" stroke="#1e1e1e" stroke-width="0" letter-spacing="2.4">***</text>
<text transform="translate(304.25,1251.40) rotate(-90)" x="0" y="0" font-size="21.67" fill="#1e1e1e" stroke="#1e1e1e" stroke-width="0.35" textLength="133.70" lengthAdjust="spacingAndGlyphs">pS935/LRRK2</text>
<line x1="610.3" y1="1023.8" x2="610.3" y2="1343.5" stroke="#111" stroke-width="2.2"/>
<line x1="604.3" y1="1342.5" x2="757.2" y2="1342.5" stroke="#111" stroke-width="2.2"/>
<line x1="604.3" y1="1024.8" x2="610.3" y2="1024.8" stroke="#111" stroke-width="2"/>
<text x="602.8" y="1031.4" font-size="18.5" text-anchor="end" font-weight="normal" fill="#1e1e1e" stroke="#1e1e1e" stroke-width="0.35" >0.4</text>
<line x1="604.3" y1="1104.4" x2="610.3" y2="1104.4" stroke="#111" stroke-width="2"/>
<text x="602.8" y="1111.0" font-size="18.5" text-anchor="end" font-weight="normal" fill="#1e1e1e" stroke="#1e1e1e" stroke-width="0.35" >0.3</text>
<line x1="604.3" y1="1183.8" x2="610.3" y2="1183.8" stroke="#111" stroke-width="2"/>
<text x="602.8" y="1190.4" font-size="18.5" text-anchor="end" font-weight="normal" fill="#1e1e1e" stroke="#1e1e1e" stroke-width="0.35" >0.2</text>
<line x1="604.3" y1="1263.5" x2="610.3" y2="1263.5" stroke="#111" stroke-width="2"/>
<text x="602.8" y="1270.1" font-size="18.5" text-anchor="end" font-weight="normal" fill="#1e1e1e" stroke="#1e1e1e" stroke-width="0.35" >0.1</text>
<line x1="604.3" y1="1342.5" x2="610.3" y2="1342.5" stroke="#111" stroke-width="2"/>
<text x="602.8" y="1349.1" font-size="18.5" text-anchor="end" font-weight="normal" fill="#1e1e1e" stroke="#1e1e1e" stroke-width="0.35" >0.0</text>
<rect x="618.9" y="1143.1" width="32" height="199.4" fill="#d4d4d4" stroke="#111" stroke-width="2.2"/>
<rect x="667.7" y="1159.9" width="32" height="182.6" fill="#787878" stroke="#111" stroke-width="2.2"/>
<rect x="717.0" y="1198.4" width="32" height="144.1" fill="#ffffff" stroke="#111" stroke-width="2.2"/>
<line x1="634.9" y1="1342.5" x2="634.9" y2="1349.0" stroke="#111" stroke-width="2"/>
<text x="634.9" y="1366.7" font-size="18.5" text-anchor="middle" font-weight="normal" fill="#1e1e1e" stroke="#1e1e1e" stroke-width="0.35" >WT</text>
<line x1="683.7" y1="1342.5" x2="683.7" y2="1349.0" stroke="#111" stroke-width="2"/>
<text x="683.7" y="1366.7" font-size="18.5" text-anchor="middle" font-weight="normal" fill="#1e1e1e" stroke="#1e1e1e" stroke-width="0.35" >RCKI</text>
<line x1="733.0" y1="1342.5" x2="733.0" y2="1349.0" stroke="#111" stroke-width="2"/>
<text x="733.0" y="1366.7" font-size="18.5" text-anchor="middle" font-weight="normal" fill="#1e1e1e" stroke="#1e1e1e" stroke-width="0.35" >GSKI</text>
<line x1="635.0" y1="1125.0" x2="635.0" y2="1161.0" stroke="#111" stroke-width="2"/>
<line x1="626.0" y1="1125.0" x2="644.0" y2="1125.0" stroke="#111" stroke-width="2"/>
<line x1="626.0" y1="1161.0" x2="644.0" y2="1161.0" stroke="#111" stroke-width="2"/>
<line x1="684.1" y1="1139.0" x2="684.1" y2="1179.9" stroke="#111" stroke-width="2"/>
<line x1="675.1" y1="1139.0" x2="693.1" y2="1139.0" stroke="#111" stroke-width="2"/>
<line x1="675.1" y1="1179.9" x2="693.1" y2="1179.9" stroke="#111" stroke-width="2"/>
<line x1="733.1" y1="1165.3" x2="733.1" y2="1232.8" stroke="#111" stroke-width="2"/>
<line x1="724.1" y1="1165.3" x2="742.1" y2="1165.3" stroke="#111" stroke-width="2"/>
<line x1="724.1" y1="1232.8" x2="742.1" y2="1232.8" stroke="#111" stroke-width="2"/>
<circle cx="635.0" cy="1092.8" r="5.0" fill="#000"/>
<circle cx="635.0" cy="1142.3" r="5.0" fill="#000"/>
<circle cx="642.8" cy="1164.6" r="5.0" fill="#000"/>
<circle cx="627.7" cy="1173.9" r="5.0" fill="#000"/>
<circle cx="675.0" cy="1141.6" r="5.0" fill="#000"/>
<circle cx="693.1" cy="1133.0" r="5.0" fill="#000"/>
<circle cx="683.7" cy="1145.3" r="5.0" fill="#000"/>
<circle cx="683.7" cy="1219.9" r="5.0" fill="#000"/>
<circle cx="733.1" cy="1100.1" r="5.0" fill="#000"/>
<circle cx="733.1" cy="1211.9" r="5.0" fill="#000"/>
<circle cx="733.1" cy="1229.1" r="5.0" fill="#000"/>
<circle cx="733.1" cy="1254.3" r="5.0" fill="#000"/>
<path d="M629.2 1032.7V1042.7M629.2 1037.7H735.7M735.7 1032.7V1042.7" stroke="#111" stroke-width="3.1" fill="none" stroke-linecap="round"/>
<text x="684.1" y="1026.8" font-size="22" text-anchor="middle" font-weight="normal" fill="#1e1e1e" stroke="#1e1e1e" stroke-width="0.35" >ns</text>
<path d="M629.9 1063.5V1073.5M629.9 1068.5H685.8M685.8 1063.5V1073.5" stroke="#111" stroke-width="3.1" fill="none" stroke-linecap="round"/>
<text x="659.0" y="1059.7" font-size="22" text-anchor="middle" font-weight="normal" fill="#1e1e1e" stroke="#1e1e1e" stroke-width="0.35" >ns</text>
<text transform="translate(556.95,1253.28) rotate(-90)" x="0" y="0" font-size="20.71" fill="#1e1e1e" stroke="#1e1e1e" stroke-width="0.35" textLength="137.40" lengthAdjust="spacingAndGlyphs">LRRK2/&#946;-actin</text>
<line x1="863.4" y1="1031.7" x2="863.4" y2="1343.6" stroke="#111" stroke-width="2.2"/>
<line x1="857.4" y1="1342.6" x2="1054.0" y2="1342.6" stroke="#111" stroke-width="2.2"/>
<line x1="857.4" y1="1032.7" x2="863.4" y2="1032.7" stroke="#111" stroke-width="2"/>
<text x="855.9" y="1039.3" font-size="18.5" text-anchor="end" font-weight="normal" fill="#1e1e1e" stroke="#1e1e1e" stroke-width="0.35" >0.15</text>
<line x1="857.4" y1="1136.2" x2="863.4" y2="1136.2" stroke="#111" stroke-width="2"/>
<text x="855.9" y="1142.8" font-size="18.5" text-anchor="end" font-weight="normal" fill="#1e1e1e" stroke="#1e1e1e" stroke-width="0.35" >0.10</text>
<line x1="857.4" y1="1239.0" x2="863.4" y2="1239.0" stroke="#111" stroke-width="2"/>
<text x="855.9" y="1245.6" font-size="18.5" text-anchor="end" font-weight="normal" fill="#1e1e1e" stroke="#1e1e1e" stroke-width="0.35" >0.05</text>
<line x1="857.4" y1="1342.6" x2="863.4" y2="1342.6" stroke="#111" stroke-width="2"/>
<text x="855.9" y="1349.2" font-size="18.5" text-anchor="end" font-weight="normal" fill="#1e1e1e" stroke="#1e1e1e" stroke-width="0.35" >0.00</text>
<rect x="872.1" y="1236.0" width="32" height="106.6" fill="#d4d4d4" stroke="#111" stroke-width="2.2"/>
<rect x="919.3" y="1107.3" width="32" height="235.3" fill="#787878" stroke="#111" stroke-width="2.2"/>
<rect x="967.3" y="1240.7" width="32" height="101.9" fill="#ffffff" stroke="#111" stroke-width="2.2"/>
<rect x="1014.9" y="1318.3" width="32" height="24.3" fill="url(#stip)" stroke="#111" stroke-width="2.2"/>
<line x1="888.1" y1="1342.6" x2="888.1" y2="1349.1" stroke="#111" stroke-width="2"/>
<text x="888.1" y="1366.8" font-size="18.5" text-anchor="middle" font-weight="normal" fill="#1e1e1e" stroke="#1e1e1e" stroke-width="0.35" >WT</text>
<line x1="935.3" y1="1342.6" x2="935.3" y2="1349.1" stroke="#111" stroke-width="2"/>
<text x="935.3" y="1366.8" font-size="18.5" text-anchor="middle" font-weight="normal" fill="#1e1e1e" stroke="#1e1e1e" stroke-width="0.35" >RCKI</text>
<line x1="983.3" y1="1342.6" x2="983.3" y2="1349.1" stroke="#111" stroke-width="2"/>
<text x="983.3" y="1366.8" font-size="18.5" text-anchor="middle" font-weight="normal" fill="#1e1e1e" stroke="#1e1e1e" stroke-width="0.35" >GSKI</text>
<line x1="1030.9" y1="1342.6" x2="1030.9" y2="1349.1" stroke="#111" stroke-width="2"/>
<text x="1030.9" y="1366.8" font-size="18.5" text-anchor="middle" font-weight="normal" fill="#1e1e1e" stroke="#1e1e1e" stroke-width="0.35" >KO</text>
<line x1="888.1" y1="1220.9" x2="888.1" y2="1251.2" stroke="#111" stroke-width="2"/>
<line x1="879.1" y1="1220.9" x2="897.1" y2="1220.9" stroke="#111" stroke-width="2"/>
<line x1="879.1" y1="1251.2" x2="897.1" y2="1251.2" stroke="#111" stroke-width="2"/>
<line x1="935.6" y1="1081.7" x2="935.6" y2="1134.5" stroke="#111" stroke-width="2"/>
<line x1="926.6" y1="1081.7" x2="944.6" y2="1081.7" stroke="#111" stroke-width="2"/>
<line x1="926.6" y1="1134.5" x2="944.6" y2="1134.5" stroke="#111" stroke-width="2"/>
<line x1="983.6" y1="1223.7" x2="983.6" y2="1257.7" stroke="#111" stroke-width="2"/>
<line x1="974.6" y1="1223.7" x2="992.6" y2="1223.7" stroke="#111" stroke-width="2"/>
<line x1="974.6" y1="1257.7" x2="992.6" y2="1257.7" stroke="#111" stroke-width="2"/>
<line x1="1030.9" y1="1316.0" x2="1030.9" y2="1322.0" stroke="#111" stroke-width="2"/>
<line x1="1021.9" y1="1316.0" x2="1039.9" y2="1316.0" stroke="#111" stroke-width="2"/>
<line x1="1021.9" y1="1322.0" x2="1039.9" y2="1322.0" stroke="#111" stroke-width="2"/>
<circle cx="880.6" cy="1204.6" r="5.0" fill="#000"/>
<circle cx="895.1" cy="1215.0" r="5.0" fill="#000"/>
<circle cx="895.1" cy="1259.3" r="5.0" fill="#000"/>
<circle cx="880.6" cy="1265.1" r="5.0" fill="#000"/>
<circle cx="935.6" cy="1046.0" r="5.0" fill="#000"/>
<circle cx="935.6" cy="1088.0" r="5.0" fill="#000"/>
<circle cx="935.6" cy="1128.7" r="5.0" fill="#000"/>
<circle cx="935.6" cy="1168.8" r="5.0" fill="#000"/>
<circle cx="990.6" cy="1206.4" r="5.0" fill="#000"/>
<circle cx="976.6" cy="1218.1" r="5.0" fill="#000"/>
<circle cx="983.6" cy="1259.3" r="5.0" fill="#000"/>
<circle cx="983.6" cy="1279.1" r="5.0" fill="#000"/>
<circle cx="1024.1" cy="1316.4" r="5.0" fill="#000"/>
<circle cx="1037.6" cy="1315.2" r="5.0" fill="#000"/>
<circle cx="1027.2" cy="1323.8" r="5.0" fill="#000"/>
<circle cx="1033.0" cy="1319.9" r="5.0" fill="#000"/>
<path d="M884.3 961.8V971.8M884.3 966.8H1032.5M1032.5 961.8V971.8" stroke="#111" stroke-width="3.1" fill="none" stroke-linecap="round"/>
<text x="962.4" y="964.2" font-size="25" text-anchor="middle" font-weight="bold" fill="#1e1e1e" stroke="#1e1e1e" stroke-width="0" letter-spacing="2.4">*</text>
<path d="M884.3 993.7V1003.7M884.3 998.7H980.6M980.6 993.7V1003.7" stroke="#111" stroke-width="3.1" fill="none" stroke-linecap="round"/>
<text x="932.8" y="989.9" font-size="22" text-anchor="middle" font-weight="normal" fill="#1e1e1e" stroke="#1e1e1e" stroke-width="0.35" >ns</text>
<path d="M884.3 1023.5V1033.5M884.3 1028.5H935.6M935.6 1023.5V1033.5" stroke="#111" stroke-width="3.1" fill="none" stroke-linecap="round"/>
<text x="912.2" y="1029.4" font-size="25" text-anchor="middle" font-weight="bold" fill="#1e1e1e" stroke="#1e1e1e" stroke-width="0" letter-spacing="2.4">**</text>
<text transform="translate(804.79,1242.48) rotate(-90)" x="0" y="0" font-size="20.06" fill="#1e1e1e" stroke="#1e1e1e" stroke-width="0.35" textLength="113.33" lengthAdjust="spacingAndGlyphs">pT73/Rab10</text>
<clipPath id="ck0"><rect x="121.5" y="86.9" width="453.5" height="44.099999999999994"/></clipPath>
<rect x="121.5" y="86.9" width="453.5" height="44.099999999999994" fill="#dddddd"/>
<g clip-path="url(#ck0)"><g filter="url(#bl2)">
<rect x="140.1" y="86.9" width="7" height="44.099999999999994" fill="#f0f0f0"/>
<rect x="165.0" y="86.9" width="7" height="44.099999999999994" fill="#f0f0f0"/>
<rect x="191.5" y="86.9" width="7" height="44.099999999999994" fill="#f0f0f0"/>
<rect x="217.8" y="86.9" width="7" height="44.099999999999994" fill="#f0f0f0"/>
<rect x="243.8" y="86.9" width="7" height="44.099999999999994" fill="#f0f0f0"/>
<rect x="269.8" y="86.9" width="7" height="44.099999999999994" fill="#f0f0f0"/>
<rect x="295.6" y="86.9" width="7" height="44.099999999999994" fill="#f0f0f0"/>
<rect x="321.1" y="86.9" width="7" height="44.099999999999994" fill="#f0f0f0"/>
<rect x="347.2" y="86.9" width="7" height="44.099999999999994" fill="#f0f0f0"/>
<rect x="373.8" y="86.9" width="7" height="44.099999999999994" fill="#f0f0f0"/>
<rect x="400.1" y="86.9" width="7" height="44.099999999999994" fill="#f0f0f0"/>
<rect x="426.1" y="86.9" width="7" height="44.099999999999994" fill="#f0f0f0"/>
<rect x="451.8" y="86.9" width="7" height="44.099999999999994" fill="#f0f0f0"/>
<rect x="477.6" y="86.9" width="7" height="44.099999999999994" fill="#f0f0f0"/>
<rect x="504.1" y="86.9" width="7" height="44.099999999999994" fill="#f0f0f0"/>
<rect x="531.5" y="86.9" width="7" height="44.099999999999994" fill="#f0f0f0"/>
</g>
<g filter="url(#bl1)">
<rect x="124.5" y="101.5" width="15" height="6" rx="3.0" fill="#000" fill-opacity="0.45"/>
<rect x="145.7" y="106.5" width="19" height="4" rx="2.0" fill="#000" fill-opacity="0.18"/>
<rect x="145.7" y="112.0" width="19" height="4" rx="2.0" fill="#000" fill-opacity="0.18"/>
<rect x="172.3" y="106.5" width="19" height="4" rx="2.0" fill="#000" fill-opacity="0.24"/>
<rect x="172.3" y="112.0" width="19" height="4" rx="2.0" fill="#000" fill-opacity="0.24"/>
<rect x="198.7" y="106.5" width="19" height="4" rx="2.0" fill="#000" fill-opacity="0.24"/>
<rect x="198.7" y="112.0" width="19" height="4" rx="2.0" fill="#000" fill-opacity="0.24"/>
<rect x="224.8" y="106.5" width="19" height="4" rx="2.0" fill="#000" fill-opacity="0.24"/>
<rect x="224.8" y="112.0" width="19" height="4" rx="2.0" fill="#000" fill-opacity="0.24"/>
<rect x="250.8" y="106.5" width="19" height="4" rx="2.0" fill="#000" fill-opacity="0.24"/>
<rect x="250.8" y="112.0" width="19" height="4" rx="2.0" fill="#000" fill-opacity="0.24"/>
<rect x="276.8" y="106.5" width="19" height="4" rx="2.0" fill="#000" fill-opacity="0.24"/>
<rect x="276.8" y="112.0" width="19" height="4" rx="2.0" fill="#000" fill-opacity="0.24"/>
<rect x="302.3" y="106.5" width="19" height="4" rx="2.0" fill="#000" fill-opacity="0.24"/>
<rect x="302.3" y="112.0" width="19" height="4" rx="2.0" fill="#000" fill-opacity="0.24"/>
<rect x="328.0" y="106.5" width="19" height="4" rx="2.0" fill="#000" fill-opacity="0.24"/>
<rect x="328.0" y="112.0" width="19" height="4" rx="2.0" fill="#000" fill-opacity="0.24"/>
<rect x="354.5" y="105.5" width="19" height="4.5" rx="2.2" fill="#000" fill-opacity="1.0"/>
<rect x="354.5" y="112.5" width="19" height="4" rx="2.0" fill="#000" fill-opacity="0.2"/>
<rect x="381.1" y="105.5" width="19" height="4.5" rx="2.2" fill="#000" fill-opacity="0.9"/>
<rect x="381.1" y="112.5" width="19" height="4" rx="2.0" fill="#000" fill-opacity="0.2"/>
<rect x="407.0" y="105.5" width="19" height="4.5" rx="2.2" fill="#000" fill-opacity="0.85"/>
<rect x="407.0" y="112.5" width="19" height="4" rx="2.0" fill="#000" fill-opacity="0.2"/>
<rect x="433.1" y="105.5" width="19" height="4.5" rx="2.2" fill="#000" fill-opacity="0.85"/>
<rect x="433.1" y="112.5" width="19" height="4" rx="2.0" fill="#000" fill-opacity="0.2"/>
<rect x="458.5" y="111.0" width="19" height="5" rx="2.5" fill="#000" fill-opacity="0.17"/>
<rect x="484.8" y="111.0" width="19" height="5" rx="2.5" fill="#000" fill-opacity="0.17"/>
<rect x="511.5" y="111.0" width="19" height="5" rx="2.5" fill="#000" fill-opacity="0.17"/>
<rect x="539.5" y="111.0" width="19" height="5" rx="2.5" fill="#000" fill-opacity="0.17"/>
</g></g>
<rect x="121.5" y="86.9" width="453.5" height="44.099999999999994" fill="none" stroke="#333" stroke-width="1.5"/>
<clipPath id="ck1"><rect x="121.5" y="135.4" width="453.5" height="43.29999999999998"/></clipPath>
<rect x="121.5" y="135.4" width="453.5" height="43.29999999999998" fill="#e1e1e1"/>
<g clip-path="url(#ck1)"><g filter="url(#bl2)">
<rect x="140.6" y="135.4" width="6" height="43.29999999999998" fill="#f0f0f0"/>
<rect x="165.5" y="135.4" width="6" height="43.29999999999998" fill="#f0f0f0"/>
<rect x="192.0" y="135.4" width="6" height="43.29999999999998" fill="#f0f0f0"/>
<rect x="218.2" y="135.4" width="6" height="43.29999999999998" fill="#f0f0f0"/>
<rect x="244.3" y="135.4" width="6" height="43.29999999999998" fill="#f0f0f0"/>
<rect x="270.3" y="135.4" width="6" height="43.29999999999998" fill="#f0f0f0"/>
<rect x="296.1" y="135.4" width="6" height="43.29999999999998" fill="#f0f0f0"/>
<rect x="321.6" y="135.4" width="6" height="43.29999999999998" fill="#f0f0f0"/>
<rect x="347.8" y="135.4" width="6" height="43.29999999999998" fill="#f0f0f0"/>
<rect x="374.3" y="135.4" width="6" height="43.29999999999998" fill="#f0f0f0"/>
<rect x="400.6" y="135.4" width="6" height="43.29999999999998" fill="#f0f0f0"/>
<rect x="426.6" y="135.4" width="6" height="43.29999999999998" fill="#f0f0f0"/>
</g>
<g filter="url(#bl1)">
<rect x="125.0" y="153.0" width="14" height="8" rx="4.0" fill="#000" fill-opacity="0.75"/>
<rect x="145.7" y="151.2" width="19" height="5.5" rx="2.8" fill="#000" fill-opacity="0.85"/>
<rect x="172.3" y="154.8" width="19" height="5.5" rx="2.8" fill="#000" fill-opacity="0.9"/>
<rect x="198.7" y="156.8" width="19" height="5.5" rx="2.8" fill="#000" fill-opacity="1.0"/>
<rect x="224.8" y="157.8" width="19" height="5.5" rx="2.8" fill="#000" fill-opacity="0.85"/>
<rect x="250.8" y="158.2" width="19" height="5.5" rx="2.8" fill="#000" fill-opacity="0.45"/>
<rect x="276.8" y="158.2" width="19" height="5.5" rx="2.8" fill="#000" fill-opacity="0.35"/>
<rect x="302.3" y="158.2" width="19" height="5.5" rx="2.8" fill="#000" fill-opacity="0.45"/>
<rect x="328.0" y="158.2" width="19" height="5.5" rx="2.8" fill="#000" fill-opacity="0.35"/>
<rect x="354.5" y="157.8" width="19" height="5.5" rx="2.8" fill="#000" fill-opacity="0.85"/>
<rect x="381.1" y="158.2" width="19" height="5.5" rx="2.8" fill="#000" fill-opacity="0.8"/>
<rect x="407.0" y="158.2" width="19" height="5.5" rx="2.8" fill="#000" fill-opacity="0.7"/>
<rect x="433.1" y="158.2" width="19" height="5.5" rx="2.8" fill="#000" fill-opacity="0.7"/>
</g></g>
<rect x="121.5" y="135.4" width="453.5" height="43.29999999999998" fill="none" stroke="#333" stroke-width="1.5"/>
<clipPath id="ck2"><rect x="121.5" y="183.8" width="453.5" height="43.79999999999998"/></clipPath>
<rect x="121.5" y="183.8" width="453.5" height="43.79999999999998" fill="#e1e1e1"/>
<g clip-path="url(#ck2)"><g filter="url(#bl2)">
<rect x="140.6" y="183.8" width="6" height="43.79999999999998" fill="#f0f0f0"/>
<rect x="165.5" y="183.8" width="6" height="43.79999999999998" fill="#f0f0f0"/>
<rect x="192.0" y="183.8" width="6" height="43.79999999999998" fill="#f0f0f0"/>
<rect x="218.2" y="183.8" width="6" height="43.79999999999998" fill="#f0f0f0"/>
<rect x="244.3" y="183.8" width="6" height="43.79999999999998" fill="#f0f0f0"/>
<rect x="270.3" y="183.8" width="6" height="43.79999999999998" fill="#f0f0f0"/>
<rect x="296.1" y="183.8" width="6" height="43.79999999999998" fill="#f0f0f0"/>
<rect x="321.6" y="183.8" width="6" height="43.79999999999998" fill="#f0f0f0"/>
<rect x="347.8" y="183.8" width="6" height="43.79999999999998" fill="#f0f0f0"/>
<rect x="374.3" y="183.8" width="6" height="43.79999999999998" fill="#f0f0f0"/>
<rect x="400.6" y="183.8" width="6" height="43.79999999999998" fill="#f0f0f0"/>
<rect x="426.6" y="183.8" width="6" height="43.79999999999998" fill="#f0f0f0"/>
</g>
<g filter="url(#bl1)">
<rect x="124.5" y="204.5" width="15" height="11" rx="5.5" fill="#000" fill-opacity="0.95"/>
<rect x="145.2" y="205.8" width="20" height="5.5" rx="2.8" fill="#000" fill-opacity="1.0"/>
<rect x="171.8" y="205.8" width="20" height="5.5" rx="2.8" fill="#000" fill-opacity="1.0"/>
<rect x="198.2" y="205.8" width="20" height="5.5" rx="2.8" fill="#000" fill-opacity="1.0"/>
<rect x="224.3" y="205.8" width="20" height="5.5" rx="2.8" fill="#000" fill-opacity="1.0"/>
<rect x="250.3" y="205.8" width="20" height="5.5" rx="2.8" fill="#000" fill-opacity="1.0"/>
<rect x="276.3" y="205.8" width="20" height="5.5" rx="2.8" fill="#000" fill-opacity="1.0"/>
<rect x="301.8" y="205.8" width="20" height="5.5" rx="2.8" fill="#000" fill-opacity="1.0"/>
<rect x="327.5" y="205.8" width="20" height="5.5" rx="2.8" fill="#000" fill-opacity="1.0"/>
<rect x="354.0" y="205.8" width="20" height="5.5" rx="2.8" fill="#000" fill-opacity="1.0"/>
<rect x="380.6" y="205.8" width="20" height="5.5" rx="2.8" fill="#000" fill-opacity="1.0"/>
<rect x="406.5" y="205.8" width="20" height="5.5" rx="2.8" fill="#000" fill-opacity="1.0"/>
<rect x="432.6" y="205.8" width="20" height="5.5" rx="2.8" fill="#000" fill-opacity="1.0"/>
</g></g>
<rect x="121.5" y="183.8" width="453.5" height="43.79999999999998" fill="none" stroke="#333" stroke-width="1.5"/>
<clipPath id="ck3"><rect x="121.5" y="230.0" width="453.5" height="44.5"/></clipPath>
<rect x="121.5" y="230.0" width="453.5" height="44.5" fill="#e1e1e1"/>
<g clip-path="url(#ck3)"><g filter="url(#bl2)">
<rect x="137.2" y="230.0" width="6" height="44.5" fill="#f0f0f0"/>
<rect x="160.4" y="230.0" width="6" height="44.5" fill="#f0f0f0"/>
<rect x="188.9" y="230.0" width="6" height="44.5" fill="#f0f0f0"/>
<rect x="215.5" y="230.0" width="6" height="44.5" fill="#f0f0f0"/>
<rect x="241.6" y="230.0" width="6" height="44.5" fill="#f0f0f0"/>
<rect x="267.2" y="230.0" width="6" height="44.5" fill="#f0f0f0"/>
<rect x="292.5" y="230.0" width="6" height="44.5" fill="#f0f0f0"/>
<rect x="318.0" y="230.0" width="6" height="44.5" fill="#f0f0f0"/>
<rect x="344.0" y="230.0" width="6" height="44.5" fill="#f0f0f0"/>
<rect x="370.5" y="230.0" width="6" height="44.5" fill="#f0f0f0"/>
<rect x="397.8" y="230.0" width="6" height="44.5" fill="#f0f0f0"/>
<rect x="425.0" y="230.0" width="6" height="44.5" fill="#f0f0f0"/>
<rect x="452.0" y="230.0" width="6" height="44.5" fill="#f0f0f0"/>
<rect x="479.5" y="230.0" width="6" height="44.5" fill="#f0f0f0"/>
<rect x="507.8" y="230.0" width="6" height="44.5" fill="#f0f0f0"/>
<rect x="537.5" y="230.0" width="6" height="44.5" fill="#f0f0f0"/>
</g>
<g filter="url(#bl1)">
<rect x="124.5" y="232.5" width="15" height="14" rx="7.0" fill="#000" fill-opacity="1.0"/>
<rect x="137.5" y="233.5" width="22" height="8" rx="3.0" fill="#000" fill-opacity="0.13"/>
<rect x="137.5" y="245.5" width="22" height="3" rx="1.5" fill="#000" fill-opacity="0.4"/>
<rect x="137.5" y="249.5" width="22" height="3" rx="1.5" fill="#000" fill-opacity="0.36000000000000004"/>
<rect x="137.5" y="254.2" width="22" height="3.5" rx="1.8" fill="#000" fill-opacity="0.2"/>
<rect x="140.5" y="263.2" width="16" height="2.5" rx="1.2" fill="#000" fill-opacity="0.1"/>
<rect x="167.4" y="233.5" width="22" height="8" rx="3.0" fill="#000" fill-opacity="0.13"/>
<rect x="167.4" y="245.5" width="22" height="3" rx="1.5" fill="#000" fill-opacity="0.55"/>
<rect x="167.4" y="249.5" width="22" height="3" rx="1.5" fill="#000" fill-opacity="0.49500000000000005"/>
<rect x="167.4" y="254.2" width="22" height="3.5" rx="1.8" fill="#000" fill-opacity="0.5"/>
<rect x="170.4" y="263.2" width="16" height="2.5" rx="1.2" fill="#000" fill-opacity="0.1"/>
<rect x="194.3" y="233.5" width="22" height="8" rx="3.0" fill="#000" fill-opacity="0.13"/>
<rect x="194.3" y="245.5" width="22" height="3" rx="1.5" fill="#000" fill-opacity="0.55"/>
<rect x="194.3" y="249.5" width="22" height="3" rx="1.5" fill="#000" fill-opacity="0.49500000000000005"/>
<rect x="194.3" y="254.2" width="22" height="3.5" rx="1.8" fill="#000" fill-opacity="0.5"/>
<rect x="197.3" y="263.2" width="16" height="2.5" rx="1.2" fill="#000" fill-opacity="0.1"/>
<rect x="220.7" y="233.5" width="22" height="8" rx="3.0" fill="#000" fill-opacity="0.13"/>
<rect x="220.7" y="245.5" width="22" height="3" rx="1.5" fill="#000" fill-opacity="0.55"/>
<rect x="220.7" y="249.5" width="22" height="3" rx="1.5" fill="#000" fill-opacity="0.49500000000000005"/>
<rect x="220.7" y="254.2" width="22" height="3.5" rx="1.8" fill="#000" fill-opacity="0.5"/>
<rect x="223.7" y="263.2" width="16" height="2.5" rx="1.2" fill="#000" fill-opacity="0.1"/>
<rect x="246.5" y="233.5" width="22" height="8" rx="3.0" fill="#000" fill-opacity="0.13"/>
<rect x="246.5" y="245.5" width="22" height="3" rx="1.5" fill="#000" fill-opacity="0.75"/>
<rect x="246.5" y="249.5" width="22" height="3" rx="1.5" fill="#000" fill-opacity="0.675"/>
<rect x="246.5" y="254.2" width="22" height="3.5" rx="1.8" fill="#000" fill-opacity="0.65"/>
<rect x="249.5" y="263.2" width="16" height="2.5" rx="1.2" fill="#000" fill-opacity="0.1"/>
<rect x="272.0" y="233.5" width="22" height="8" rx="3.0" fill="#000" fill-opacity="0.13"/>
<rect x="272.0" y="245.5" width="22" height="3" rx="1.5" fill="#000" fill-opacity="0.75"/>
<rect x="272.0" y="249.5" width="22" height="3" rx="1.5" fill="#000" fill-opacity="0.675"/>
<rect x="272.0" y="254.2" width="22" height="3.5" rx="1.8" fill="#000" fill-opacity="0.65"/>
<rect x="275.0" y="263.2" width="16" height="2.5" rx="1.2" fill="#000" fill-opacity="0.1"/>
<rect x="297.0" y="233.5" width="22" height="8" rx="3.0" fill="#000" fill-opacity="0.13"/>
<rect x="297.0" y="245.5" width="22" height="3" rx="1.5" fill="#000" fill-opacity="0.75"/>
<rect x="297.0" y="249.5" width="22" height="3" rx="1.5" fill="#000" fill-opacity="0.675"/>
<rect x="297.0" y="254.2" width="22" height="3.5" rx="1.8" fill="#000" fill-opacity="0.65"/>
<rect x="300.0" y="263.2" width="16" height="2.5" rx="1.2" fill="#000" fill-opacity="0.1"/>
<rect x="323.0" y="233.5" width="22" height="8" rx="3.0" fill="#000" fill-opacity="0.13"/>
<rect x="323.0" y="245.5" width="22" height="3" rx="1.5" fill="#000" fill-opacity="0.75"/>
<rect x="323.0" y="249.5" width="22" height="3" rx="1.5" fill="#000" fill-opacity="0.675"/>
<rect x="323.0" y="254.2" width="22" height="3.5" rx="1.8" fill="#000" fill-opacity="0.65"/>
<rect x="326.0" y="263.2" width="16" height="2.5" rx="1.2" fill="#000" fill-opacity="0.1"/>
<rect x="349.0" y="233.5" width="22" height="8" rx="3.0" fill="#000" fill-opacity="0.13"/>
<rect x="349.0" y="245.5" width="22" height="3" rx="1.5" fill="#000" fill-opacity="0.9"/>
<rect x="349.0" y="249.5" width="22" height="3" rx="1.5" fill="#000" fill-opacity="0.81"/>
<rect x="349.0" y="254.2" width="22" height="3.5" rx="1.8" fill="#000" fill-opacity="0.8"/>
<rect x="352.0" y="263.2" width="16" height="2.5" rx="1.2" fill="#000" fill-opacity="0.1"/>
<rect x="376.0" y="233.5" width="22" height="8" rx="3.0" fill="#000" fill-opacity="0.13"/>
<rect x="376.0" y="245.5" width="22" height="3" rx="1.5" fill="#000" fill-opacity="0.6"/>
<rect x="376.0" y="249.5" width="22" height="3" rx="1.5" fill="#000" fill-opacity="0.54"/>
<rect x="376.0" y="254.2" width="22" height="3.5" rx="1.8" fill="#000" fill-opacity="0.5"/>
<rect x="379.0" y="263.2" width="16" height="2.5" rx="1.2" fill="#000" fill-opacity="0.1"/>
<rect x="403.5" y="233.5" width="22" height="8" rx="3.0" fill="#000" fill-opacity="0.13"/>
<rect x="403.5" y="245.5" width="22" height="3" rx="1.5" fill="#000" fill-opacity="0.6"/>
<rect x="403.5" y="249.5" width="22" height="3" rx="1.5" fill="#000" fill-opacity="0.54"/>
<rect x="403.5" y="254.2" width="22" height="3.5" rx="1.8" fill="#000" fill-opacity="0.5"/>
<rect x="406.5" y="263.2" width="16" height="2.5" rx="1.2" fill="#000" fill-opacity="0.1"/>
<rect x="430.5" y="233.5" width="22" height="8" rx="3.0" fill="#000" fill-opacity="0.13"/>
<rect x="430.5" y="245.5" width="22" height="3" rx="1.5" fill="#000" fill-opacity="0.6"/>
<rect x="430.5" y="249.5" width="22" height="3" rx="1.5" fill="#000" fill-opacity="0.54"/>
<rect x="430.5" y="254.2" width="22" height="3.5" rx="1.8" fill="#000" fill-opacity="0.5"/>
<rect x="433.5" y="263.2" width="16" height="2.5" rx="1.2" fill="#000" fill-opacity="0.1"/>
<rect x="456.5" y="233.5" width="24" height="8" rx="3.0" fill="#000" fill-opacity="0.13"/>
<rect x="456.5" y="245.5" width="24" height="3" rx="1.5" fill="#000" fill-opacity="0.45"/>
<rect x="456.5" y="249.5" width="24" height="3" rx="1.5" fill="#000" fill-opacity="0.405"/>
<rect x="456.5" y="254.2" width="24" height="3.5" rx="1.8" fill="#000" fill-opacity="0.4"/>
<rect x="460.5" y="263.2" width="16" height="2.5" rx="1.2" fill="#000" fill-opacity="0.1"/>
<rect x="484.5" y="233.5" width="24" height="8" rx="3.0" fill="#000" fill-opacity="0.13"/>
<rect x="484.5" y="245.5" width="24" height="3" rx="1.5" fill="#000" fill-opacity="0.45"/>
<rect x="484.5" y="249.5" width="24" height="3" rx="1.5" fill="#000" fill-opacity="0.405"/>
<rect x="484.5" y="254.2" width="24" height="3.5" rx="1.8" fill="#000" fill-opacity="0.4"/>
<rect x="488.5" y="263.2" width="16" height="2.5" rx="1.2" fill="#000" fill-opacity="0.1"/>
<rect x="513.0" y="233.5" width="24" height="8" rx="3.0" fill="#000" fill-opacity="0.13"/>
<rect x="513.0" y="245.5" width="24" height="3" rx="1.5" fill="#000" fill-opacity="0.45"/>
<rect x="513.0" y="249.5" width="24" height="3" rx="1.5" fill="#000" fill-opacity="0.405"/>
<rect x="513.0" y="254.2" width="24" height="3.5" rx="1.8" fill="#000" fill-opacity="0.4"/>
<rect x="517.0" y="263.2" width="16" height="2.5" rx="1.2" fill="#000" fill-opacity="0.1"/>
<rect x="544.0" y="233.5" width="24" height="8" rx="3.0" fill="#000" fill-opacity="0.13"/>
<rect x="544.0" y="245.5" width="24" height="3" rx="1.5" fill="#000" fill-opacity="0.45"/>
<rect x="544.0" y="249.5" width="24" height="3" rx="1.5" fill="#000" fill-opacity="0.405"/>
<rect x="544.0" y="254.2" width="24" height="3.5" rx="1.8" fill="#000" fill-opacity="0.4"/>
<rect x="548.0" y="263.2" width="16" height="2.5" rx="1.2" fill="#000" fill-opacity="0.1"/>
</g></g>
<rect x="121.5" y="230.0" width="453.5" height="44.5" fill="none" stroke="#333" stroke-width="1.5"/>
<clipPath id="ck4"><rect x="121.5" y="277.3" width="453.5" height="46.19999999999999"/></clipPath>
<rect x="121.5" y="277.3" width="453.5" height="46.19999999999999" fill="#e1e1e1"/>
<g clip-path="url(#ck4)"><g filter="url(#bl2)">
<rect x="137.2" y="277.3" width="6" height="46.19999999999999" fill="#f0f0f0"/>
<rect x="160.4" y="277.3" width="6" height="46.19999999999999" fill="#f0f0f0"/>
<rect x="188.9" y="277.3" width="6" height="46.19999999999999" fill="#f0f0f0"/>
<rect x="215.5" y="277.3" width="6" height="46.19999999999999" fill="#f0f0f0"/>
<rect x="241.6" y="277.3" width="6" height="46.19999999999999" fill="#f0f0f0"/>
<rect x="267.2" y="277.3" width="6" height="46.19999999999999" fill="#f0f0f0"/>
<rect x="292.5" y="277.3" width="6" height="46.19999999999999" fill="#f0f0f0"/>
<rect x="318.0" y="277.3" width="6" height="46.19999999999999" fill="#f0f0f0"/>
<rect x="344.0" y="277.3" width="6" height="46.19999999999999" fill="#f0f0f0"/>
<rect x="370.5" y="277.3" width="6" height="46.19999999999999" fill="#f0f0f0"/>
<rect x="397.8" y="277.3" width="6" height="46.19999999999999" fill="#f0f0f0"/>
<rect x="425.0" y="277.3" width="6" height="46.19999999999999" fill="#f0f0f0"/>
<rect x="452.0" y="277.3" width="6" height="46.19999999999999" fill="#f0f0f0"/>
<rect x="479.5" y="277.3" width="6" height="46.19999999999999" fill="#f0f0f0"/>
<rect x="507.8" y="277.3" width="6" height="46.19999999999999" fill="#f0f0f0"/>
<rect x="537.5" y="277.3" width="6" height="46.19999999999999" fill="#f0f0f0"/>
</g>
<g filter="url(#bl1)">
<rect x="126.0" y="286.5" width="12" height="7" rx="3.5" fill="#000" fill-opacity="0.12"/>
<rect x="133.5" y="295.6" width="30" height="5.5" rx="2.8" fill="#000" fill-opacity="0.9"/>
<rect x="136.5" y="300.0" width="24" height="6" rx="3.0" fill="#000" fill-opacity="0.12"/>
<rect x="165.4" y="295.6" width="26" height="5.5" rx="2.8" fill="#000" fill-opacity="0.9"/>
<rect x="166.4" y="300.0" width="24" height="6" rx="3.0" fill="#000" fill-opacity="0.12"/>
<rect x="192.3" y="295.6" width="26" height="5.5" rx="2.8" fill="#000" fill-opacity="0.9"/>
<rect x="193.3" y="300.0" width="24" height="6" rx="3.0" fill="#000" fill-opacity="0.12"/>
<rect x="218.7" y="295.6" width="26" height="5.5" rx="2.8" fill="#000" fill-opacity="0.9"/>
<rect x="219.7" y="300.0" width="24" height="6" rx="3.0" fill="#000" fill-opacity="0.12"/>
<rect x="244.5" y="295.6" width="26" height="5.5" rx="2.8" fill="#000" fill-opacity="0.9"/>
<rect x="245.5" y="300.0" width="24" height="6" rx="3.0" fill="#000" fill-opacity="0.12"/>
<rect x="270.0" y="295.6" width="26" height="5.5" rx="2.8" fill="#000" fill-opacity="0.9"/>
<rect x="271.0" y="300.0" width="24" height="6" rx="3.0" fill="#000" fill-opacity="0.12"/>
<rect x="295.0" y="295.6" width="26" height="5.5" rx="2.8" fill="#000" fill-opacity="0.9"/>
<rect x="296.0" y="300.0" width="24" height="6" rx="3.0" fill="#000" fill-opacity="0.12"/>
<rect x="321.0" y="295.6" width="26" height="5.5" rx="2.8" fill="#000" fill-opacity="0.9"/>
<rect x="322.0" y="300.0" width="24" height="6" rx="3.0" fill="#000" fill-opacity="0.12"/>
<rect x="347.0" y="295.6" width="26" height="5.5" rx="2.8" fill="#000" fill-opacity="0.9"/>
<rect x="348.0" y="300.0" width="24" height="6" rx="3.0" fill="#000" fill-opacity="0.12"/>
<rect x="374.0" y="295.6" width="26" height="5.5" rx="2.8" fill="#000" fill-opacity="0.9"/>
<rect x="375.0" y="300.0" width="24" height="6" rx="3.0" fill="#000" fill-opacity="0.12"/>
<rect x="401.5" y="295.6" width="26" height="5.5" rx="2.8" fill="#000" fill-opacity="0.9"/>
<rect x="402.5" y="300.0" width="24" height="6" rx="3.0" fill="#000" fill-opacity="0.12"/>
<rect x="428.5" y="295.6" width="26" height="5.5" rx="2.8" fill="#000" fill-opacity="0.9"/>
<rect x="429.5" y="300.0" width="24" height="6" rx="3.0" fill="#000" fill-opacity="0.12"/>
<rect x="455.5" y="295.6" width="26" height="5.5" rx="2.8" fill="#000" fill-opacity="0.9"/>
<rect x="456.5" y="300.0" width="24" height="6" rx="3.0" fill="#000" fill-opacity="0.12"/>
<rect x="483.5" y="295.6" width="26" height="5.5" rx="2.8" fill="#000" fill-opacity="0.9"/>
<rect x="484.5" y="300.0" width="24" height="6" rx="3.0" fill="#000" fill-opacity="0.12"/>
<rect x="512.0" y="295.6" width="26" height="5.5" rx="2.8" fill="#000" fill-opacity="0.9"/>
<rect x="513.0" y="300.0" width="24" height="6" rx="3.0" fill="#000" fill-opacity="0.12"/>
<rect x="543.0" y="295.6" width="26" height="5.5" rx="2.8" fill="#000" fill-opacity="0.9"/>
<rect x="544.0" y="300.0" width="24" height="6" rx="3.0" fill="#000" fill-opacity="0.12"/>
</g></g>
<rect x="121.5" y="277.3" width="453.5" height="46.19999999999999" fill="none" stroke="#333" stroke-width="1.5"/>
<clipPath id="ck5"><rect x="121.5" y="327.6" width="453.5" height="42.799999999999955"/></clipPath>
<rect x="121.5" y="327.6" width="453.5" height="42.799999999999955" fill="#e1e1e1"/>
<g clip-path="url(#ck5)"><g filter="url(#bl2)">
<rect x="137.2" y="327.6" width="6" height="42.799999999999955" fill="#f0f0f0"/>
<rect x="160.4" y="327.6" width="6" height="42.799999999999955" fill="#f0f0f0"/>
<rect x="188.9" y="327.6" width="6" height="42.799999999999955" fill="#f0f0f0"/>
<rect x="215.5" y="327.6" width="6" height="42.799999999999955" fill="#f0f0f0"/>
<rect x="241.6" y="327.6" width="6" height="42.799999999999955" fill="#f0f0f0"/>
<rect x="267.2" y="327.6" width="6" height="42.799999999999955" fill="#f0f0f0"/>
<rect x="292.5" y="327.6" width="6" height="42.799999999999955" fill="#f0f0f0"/>
<rect x="318.0" y="327.6" width="6" height="42.799999999999955" fill="#f0f0f0"/>
<rect x="344.0" y="327.6" width="6" height="42.799999999999955" fill="#f0f0f0"/>
<rect x="370.5" y="327.6" width="6" height="42.799999999999955" fill="#f0f0f0"/>
<rect x="397.8" y="327.6" width="6" height="42.799999999999955" fill="#f0f0f0"/>
<rect x="425.0" y="327.6" width="6" height="42.799999999999955" fill="#f0f0f0"/>
<rect x="452.0" y="327.6" width="6" height="42.799999999999955" fill="#f0f0f0"/>
<rect x="479.5" y="327.6" width="6" height="42.799999999999955" fill="#f0f0f0"/>
<rect x="507.8" y="327.6" width="6" height="42.799999999999955" fill="#f0f0f0"/>
<rect x="537.5" y="327.6" width="6" height="42.799999999999955" fill="#f0f0f0"/>
</g>
<g filter="url(#bl1)">
<rect x="126.0" y="329.5" width="12" height="5" rx="2.5" fill="#000" fill-opacity="0.08"/>
<rect x="126.0" y="352.0" width="12" height="6" rx="3.0" fill="#000" fill-opacity="0.12"/>
<rect x="136.5" y="328.5" width="24" height="9" rx="3.0" fill="#000" fill-opacity="0.15"/>
<rect x="134.5" y="339.0" width="28" height="12" rx="3.0" fill="#000" fill-opacity="1.0"/>
<rect x="166.4" y="328.5" width="24" height="9" rx="3.0" fill="#000" fill-opacity="0.15"/>
<rect x="165.4" y="339.0" width="26" height="12" rx="3.0" fill="#000" fill-opacity="1.0"/>
<rect x="193.3" y="328.5" width="24" height="9" rx="3.0" fill="#000" fill-opacity="0.15"/>
<rect x="192.3" y="339.0" width="26" height="12" rx="3.0" fill="#000" fill-opacity="1.0"/>
<rect x="219.7" y="328.5" width="24" height="9" rx="3.0" fill="#000" fill-opacity="0.15"/>
<rect x="218.7" y="339.0" width="26" height="12" rx="3.0" fill="#000" fill-opacity="1.0"/>
<rect x="245.5" y="328.5" width="24" height="9" rx="3.0" fill="#000" fill-opacity="0.15"/>
<rect x="244.5" y="339.0" width="26" height="12" rx="3.0" fill="#000" fill-opacity="1.0"/>
<rect x="271.0" y="328.5" width="24" height="9" rx="3.0" fill="#000" fill-opacity="0.15"/>
<rect x="270.0" y="339.0" width="26" height="12" rx="3.0" fill="#000" fill-opacity="1.0"/>
<rect x="296.0" y="328.5" width="24" height="9" rx="3.0" fill="#000" fill-opacity="0.15"/>
<rect x="295.0" y="339.0" width="26" height="12" rx="3.0" fill="#000" fill-opacity="1.0"/>
<rect x="322.0" y="328.5" width="24" height="9" rx="3.0" fill="#000" fill-opacity="0.15"/>
<rect x="321.0" y="339.0" width="26" height="12" rx="3.0" fill="#000" fill-opacity="1.0"/>
<rect x="348.0" y="328.5" width="24" height="9" rx="3.0" fill="#000" fill-opacity="0.15"/>
<rect x="347.0" y="339.0" width="26" height="12" rx="3.0" fill="#000" fill-opacity="1.0"/>
<rect x="375.0" y="328.5" width="24" height="9" rx="3.0" fill="#000" fill-opacity="0.15"/>
<rect x="374.0" y="339.0" width="26" height="12" rx="3.0" fill="#000" fill-opacity="1.0"/>
<rect x="402.5" y="328.5" width="24" height="9" rx="3.0" fill="#000" fill-opacity="0.15"/>
<rect x="401.5" y="339.0" width="26" height="12" rx="3.0" fill="#000" fill-opacity="1.0"/>
<rect x="429.5" y="328.5" width="24" height="9" rx="3.0" fill="#000" fill-opacity="0.15"/>
<rect x="428.5" y="339.0" width="26" height="12" rx="3.0" fill="#000" fill-opacity="1.0"/>
<rect x="456.5" y="328.5" width="24" height="9" rx="3.0" fill="#000" fill-opacity="0.15"/>
<rect x="455.5" y="339.0" width="26" height="12" rx="3.0" fill="#000" fill-opacity="1.0"/>
<rect x="484.5" y="328.5" width="24" height="9" rx="3.0" fill="#000" fill-opacity="0.15"/>
<rect x="483.5" y="339.0" width="26" height="12" rx="3.0" fill="#000" fill-opacity="1.0"/>
<rect x="513.0" y="328.5" width="24" height="9" rx="3.0" fill="#000" fill-opacity="0.15"/>
<rect x="512.0" y="339.0" width="26" height="12" rx="3.0" fill="#000" fill-opacity="1.0"/>
<rect x="544.0" y="328.5" width="24" height="9" rx="3.0" fill="#000" fill-opacity="0.15"/>
<rect x="543.0" y="339.0" width="26" height="12" rx="3.0" fill="#000" fill-opacity="1.0"/>
</g></g>
<rect x="121.5" y="327.6" width="453.5" height="42.799999999999955" fill="none" stroke="#333" stroke-width="1.5"/>
<clipPath id="cl0"><rect x="608.2" y="86.8" width="454.39999999999986" height="43.39999999999999"/></clipPath>
<rect x="608.2" y="86.8" width="454.39999999999986" height="43.39999999999999" fill="#dddddd"/>
<g clip-path="url(#cl0)"><g filter="url(#bl2)">
<rect x="628.1" y="86.8" width="7" height="43.39999999999999" fill="#f0f0f0"/>
<rect x="653.8" y="86.8" width="7" height="43.39999999999999" fill="#f0f0f0"/>
<rect x="680.8" y="86.8" width="7" height="43.39999999999999" fill="#f0f0f0"/>
<rect x="706.8" y="86.8" width="7" height="43.39999999999999" fill="#f0f0f0"/>
<rect x="732.6" y="86.8" width="7" height="43.39999999999999" fill="#f0f0f0"/>
<rect x="758.1" y="86.8" width="7" height="43.39999999999999" fill="#f0f0f0"/>
<rect x="783.0" y="86.8" width="7" height="43.39999999999999" fill="#f0f0f0"/>
<rect x="808.1" y="86.8" width="7" height="43.39999999999999" fill="#f0f0f0"/>
<rect x="834.2" y="86.8" width="7" height="43.39999999999999" fill="#f0f0f0"/>
<rect x="859.8" y="86.8" width="7" height="43.39999999999999" fill="#f0f0f0"/>
<rect x="884.5" y="86.8" width="7" height="43.39999999999999" fill="#f0f0f0"/>
<rect x="910.0" y="86.8" width="7" height="43.39999999999999" fill="#f0f0f0"/>
<rect x="936.0" y="86.8" width="7" height="43.39999999999999" fill="#f0f0f0"/>
<rect x="963.3" y="86.8" width="7" height="43.39999999999999" fill="#f0f0f0"/>
<rect x="991.1" y="86.8" width="7" height="43.39999999999999" fill="#f0f0f0"/>
<rect x="1019.0" y="86.8" width="7" height="43.39999999999999" fill="#f0f0f0"/>
</g>
<g filter="url(#bl1)">
<rect x="612.5" y="98.5" width="15" height="6" rx="3.0" fill="#000" fill-opacity="0.45"/>
<rect x="633.2" y="103.0" width="20" height="3.5" rx="1.8" fill="#000" fill-opacity="0.28"/>
<rect x="633.2" y="107.5" width="20" height="5" rx="2.5" fill="#000" fill-opacity="0.07"/>
<rect x="661.3" y="103.0" width="20" height="3.5" rx="1.8" fill="#000" fill-opacity="0.55"/>
<rect x="661.3" y="107.5" width="20" height="5" rx="2.5" fill="#000" fill-opacity="0.1375"/>
<rect x="687.4" y="103.0" width="20" height="3.5" rx="1.8" fill="#000" fill-opacity="0.22"/>
<rect x="687.4" y="107.5" width="20" height="5" rx="2.5" fill="#000" fill-opacity="0.055"/>
<rect x="713.3" y="103.0" width="20" height="3.5" rx="1.8" fill="#000" fill-opacity="0.28"/>
<rect x="713.3" y="107.5" width="20" height="5" rx="2.5" fill="#000" fill-opacity="0.07"/>
<rect x="739.0" y="103.0" width="20" height="3.5" rx="1.8" fill="#000" fill-opacity="0.55"/>
<rect x="739.0" y="107.5" width="20" height="5" rx="2.5" fill="#000" fill-opacity="0.1375"/>
<rect x="764.2" y="103.0" width="20" height="3.5" rx="1.8" fill="#000" fill-opacity="0.18"/>
<rect x="764.2" y="107.5" width="20" height="5" rx="2.5" fill="#000" fill-opacity="0.045"/>
<rect x="788.8" y="103.0" width="20" height="3.5" rx="1.8" fill="#000" fill-opacity="0.32"/>
<rect x="788.8" y="107.5" width="20" height="5" rx="2.5" fill="#000" fill-opacity="0.08"/>
<rect x="814.4" y="103.0" width="20" height="3.5" rx="1.8" fill="#000" fill-opacity="0.38"/>
<rect x="814.4" y="107.5" width="20" height="5" rx="2.5" fill="#000" fill-opacity="0.095"/>
<rect x="841.0" y="103.0" width="20" height="3.5" rx="1.8" fill="#000" fill-opacity="1.0"/>
<rect x="841.0" y="107.5" width="20" height="5" rx="2.5" fill="#000" fill-opacity="0.25"/>
<rect x="865.5" y="103.0" width="20" height="3.5" rx="1.8" fill="#000" fill-opacity="0.85"/>
<rect x="865.5" y="107.5" width="20" height="5" rx="2.5" fill="#000" fill-opacity="0.2125"/>
<rect x="890.5" y="103.0" width="20" height="3.5" rx="1.8" fill="#000" fill-opacity="0.8"/>
<rect x="890.5" y="107.5" width="20" height="5" rx="2.5" fill="#000" fill-opacity="0.2"/>
<rect x="916.5" y="103.0" width="20" height="3.5" rx="1.8" fill="#000" fill-opacity="0.65"/>
<rect x="916.5" y="107.5" width="20" height="5" rx="2.5" fill="#000" fill-opacity="0.1625"/>
<rect x="942.4" y="103.0" width="20" height="3.5" rx="1.8" fill="#000" fill-opacity="0.1"/>
<rect x="942.4" y="107.5" width="20" height="5" rx="2.5" fill="#000" fill-opacity="0.025"/>
<rect x="971.2" y="103.0" width="20" height="3.5" rx="1.8" fill="#000" fill-opacity="0.1"/>
<rect x="971.2" y="107.5" width="20" height="5" rx="2.5" fill="#000" fill-opacity="0.025"/>
<rect x="998.0" y="103.0" width="20" height="3.5" rx="1.8" fill="#000" fill-opacity="0.1"/>
<rect x="998.0" y="107.5" width="20" height="5" rx="2.5" fill="#000" fill-opacity="0.025"/>
<rect x="1027.0" y="103.0" width="20" height="3.5" rx="1.8" fill="#000" fill-opacity="0.08"/>
<rect x="1027.0" y="107.5" width="20" height="5" rx="2.5" fill="#000" fill-opacity="0.02"/>
</g></g>
<rect x="608.2" y="86.8" width="454.39999999999986" height="43.39999999999999" fill="none" stroke="#333" stroke-width="1.5"/>
<clipPath id="cl1"><rect x="608.2" y="134.3" width="454.39999999999986" height="46.0"/></clipPath>
<rect x="608.2" y="134.3" width="454.39999999999986" height="46.0" fill="#e1e1e1"/>
<g clip-path="url(#cl1)"><g filter="url(#bl2)">
<rect x="627.2" y="134.3" width="6" height="46.0" fill="#f0f0f0"/>
<rect x="651.0" y="134.3" width="6" height="46.0" fill="#f0f0f0"/>
<rect x="677.6" y="134.3" width="6" height="46.0" fill="#f0f0f0"/>
<rect x="703.6" y="134.3" width="6" height="46.0" fill="#f0f0f0"/>
<rect x="729.2" y="134.3" width="6" height="46.0" fill="#f0f0f0"/>
<rect x="755.2" y="134.3" width="6" height="46.0" fill="#f0f0f0"/>
<rect x="781.2" y="134.3" width="6" height="46.0" fill="#f0f0f0"/>
<rect x="807.4" y="134.3" width="6" height="46.0" fill="#f0f0f0"/>
<rect x="834.2" y="134.3" width="6" height="46.0" fill="#f0f0f0"/>
<rect x="860.8" y="134.3" width="6" height="46.0" fill="#f0f0f0"/>
<rect x="886.5" y="134.3" width="6" height="46.0" fill="#f0f0f0"/>
<rect x="912.6" y="134.3" width="6" height="46.0" fill="#f0f0f0"/>
</g>
<g filter="url(#bl1)">
<rect x="612.5" y="145.5" width="15" height="9" rx="4.5" fill="#000" fill-opacity="0.85"/>
<rect x="630.5" y="150.0" width="20" height="6" rx="3.0" fill="#000" fill-opacity="1.0"/>
<rect x="657.5" y="153.3" width="20" height="6" rx="3.0" fill="#000" fill-opacity="1.0"/>
<rect x="683.8" y="155.0" width="20" height="6" rx="3.0" fill="#000" fill-opacity="0.85"/>
<rect x="709.5" y="156.6" width="20" height="6" rx="3.0" fill="#000" fill-opacity="1.0"/>
<rect x="735.0" y="158.5" width="20" height="6" rx="3.0" fill="#000" fill-opacity="1.0"/>
<rect x="761.5" y="157.5" width="20" height="6" rx="3.0" fill="#000" fill-opacity="0.3"/>
<rect x="787.0" y="157.5" width="20" height="6" rx="3.0" fill="#000" fill-opacity="0.3"/>
<rect x="813.7" y="157.5" width="20" height="6" rx="3.0" fill="#000" fill-opacity="0.4"/>
<rect x="840.8" y="159.5" width="20" height="6" rx="3.0" fill="#000" fill-opacity="0.95"/>
<rect x="866.8" y="159.5" width="20" height="6" rx="3.0" fill="#000" fill-opacity="0.8"/>
<rect x="892.3" y="160.0" width="20" height="6" rx="3.0" fill="#000" fill-opacity="0.8"/>
<rect x="919.0" y="160.5" width="20" height="6" rx="3.0" fill="#000" fill-opacity="0.65"/>
</g></g>
<rect x="608.2" y="134.3" width="454.39999999999986" height="46.0" fill="none" stroke="#333" stroke-width="1.5"/>
<clipPath id="cl2"><rect x="608.2" y="184.6" width="454.39999999999986" height="42.5"/></clipPath>
<rect x="608.2" y="184.6" width="454.39999999999986" height="42.5" fill="#e1e1e1"/>
<g clip-path="url(#cl2)"><g filter="url(#bl2)">
<rect x="627.2" y="184.6" width="6" height="42.5" fill="#f0f0f0"/>
<rect x="651.0" y="184.6" width="6" height="42.5" fill="#f0f0f0"/>
<rect x="677.6" y="184.6" width="6" height="42.5" fill="#f0f0f0"/>
<rect x="703.6" y="184.6" width="6" height="42.5" fill="#f0f0f0"/>
<rect x="729.2" y="184.6" width="6" height="42.5" fill="#f0f0f0"/>
<rect x="755.2" y="184.6" width="6" height="42.5" fill="#f0f0f0"/>
<rect x="781.2" y="184.6" width="6" height="42.5" fill="#f0f0f0"/>
<rect x="807.4" y="184.6" width="6" height="42.5" fill="#f0f0f0"/>
<rect x="834.2" y="184.6" width="6" height="42.5" fill="#f0f0f0"/>
<rect x="860.8" y="184.6" width="6" height="42.5" fill="#f0f0f0"/>
<rect x="886.5" y="184.6" width="6" height="42.5" fill="#f0f0f0"/>
<rect x="912.6" y="184.6" width="6" height="42.5" fill="#f0f0f0"/>
</g>
<g filter="url(#bl1)">
<rect x="613.0" y="199.0" width="14" height="8" rx="4.0" fill="#000" fill-opacity="0.9"/>
<rect x="630.5" y="200.0" width="20" height="6" rx="3.0" fill="#000" fill-opacity="1.0"/>
<rect x="657.5" y="204.0" width="20" height="6" rx="3.0" fill="#000" fill-opacity="1.0"/>
<rect x="683.8" y="204.0" width="20" height="6" rx="3.0" fill="#000" fill-opacity="1.0"/>
<rect x="709.5" y="204.6" width="20" height="6" rx="3.0" fill="#000" fill-opacity="1.0"/>
<rect x="735.0" y="204.6" width="20" height="6" rx="3.0" fill="#000" fill-opacity="1.0"/>
<rect x="761.5" y="204.6" width="20" height="6" rx="3.0" fill="#000" fill-opacity="0.6"/>
<rect x="787.0" y="204.6" width="20" height="6" rx="3.0" fill="#000" fill-opacity="0.95"/>
<rect x="813.7" y="204.6" width="20" height="6" rx="3.0" fill="#000" fill-opacity="1.0"/>
<rect x="840.8" y="204.0" width="20" height="6" rx="3.0" fill="#000" fill-opacity="1.0"/>
<rect x="866.8" y="205.0" width="20" height="6" rx="3.0" fill="#000" fill-opacity="0.85"/>
<rect x="892.3" y="205.5" width="20" height="6" rx="3.0" fill="#000" fill-opacity="0.9"/>
<rect x="919.0" y="207.0" width="20" height="6" rx="3.0" fill="#000" fill-opacity="0.75"/>
</g></g>
<rect x="608.2" y="184.6" width="454.39999999999986" height="42.5" fill="none" stroke="#333" stroke-width="1.5"/>
<clipPath id="cl3"><rect x="608.2" y="230.4" width="454.39999999999986" height="44.20000000000002"/></clipPath>
<rect x="608.2" y="230.4" width="454.39999999999986" height="44.20000000000002" fill="#e1e1e1"/>
<g clip-path="url(#cl3)"><g filter="url(#bl2)">
<rect x="627.2" y="230.4" width="6" height="44.20000000000002" fill="#f0f0f0"/>
<rect x="651.0" y="230.4" width="6" height="44.20000000000002" fill="#f0f0f0"/>
<rect x="677.6" y="230.4" width="6" height="44.20000000000002" fill="#f0f0f0"/>
<rect x="703.6" y="230.4" width="6" height="44.20000000000002" fill="#f0f0f0"/>
<rect x="729.2" y="230.4" width="6" height="44.20000000000002" fill="#f0f0f0"/>
<rect x="755.2" y="230.4" width="6" height="44.20000000000002" fill="#f0f0f0"/>
<rect x="781.2" y="230.4" width="6" height="44.20000000000002" fill="#f0f0f0"/>
<rect x="807.4" y="230.4" width="6" height="44.20000000000002" fill="#f0f0f0"/>
<rect x="834.2" y="230.4" width="6" height="44.20000000000002" fill="#f0f0f0"/>
<rect x="860.8" y="230.4" width="6" height="44.20000000000002" fill="#f0f0f0"/>
<rect x="886.5" y="230.4" width="6" height="44.20000000000002" fill="#f0f0f0"/>
<rect x="912.6" y="230.4" width="6" height="44.20000000000002" fill="#f0f0f0"/>
<rect x="939.4" y="230.4" width="6" height="44.20000000000002" fill="#f0f0f0"/>
<rect x="966.2" y="230.4" width="6" height="44.20000000000002" fill="#f0f0f0"/>
<rect x="993.3" y="230.4" width="6" height="44.20000000000002" fill="#f0f0f0"/>
<rect x="1021.5" y="230.4" width="6" height="44.20000000000002" fill="#f0f0f0"/>
</g>
<g filter="url(#bl1)">
<rect x="614.0" y="239.5" width="12" height="9" rx="4.5" fill="#000" fill-opacity="0.15"/>
<rect x="630.0" y="251.8" width="21" height="3.5" rx="1.8" fill="#000" fill-opacity="0.6"/>
<rect x="657.0" y="251.8" width="21" height="3.5" rx="1.8" fill="#000" fill-opacity="0.6"/>
<rect x="683.3" y="251.8" width="21" height="3.5" rx="1.8" fill="#000" fill-opacity="0.35"/>
<rect x="709.0" y="251.8" width="21" height="3.5" rx="1.8" fill="#000" fill-opacity="0.4"/>
<rect x="734.5" y="251.8" width="21" height="3.5" rx="1.8" fill="#000" fill-opacity="0.95"/>
<rect x="761.0" y="251.8" width="21" height="3.5" rx="1.8" fill="#000" fill-opacity="0.55"/>
<rect x="786.5" y="251.8" width="21" height="3.5" rx="1.8" fill="#000" fill-opacity="0.8"/>
<rect x="813.2" y="251.8" width="21" height="3.5" rx="1.8" fill="#000" fill-opacity="0.9"/>
<rect x="840.3" y="251.8" width="21" height="3.5" rx="1.8" fill="#000" fill-opacity="0.55"/>
<rect x="866.3" y="251.8" width="21" height="3.5" rx="1.8" fill="#000" fill-opacity="0.45"/>
<rect x="891.8" y="251.8" width="21" height="3.5" rx="1.8" fill="#000" fill-opacity="0.4"/>
<rect x="918.5" y="251.8" width="21" height="3.5" rx="1.8" fill="#000" fill-opacity="0.3"/>
<rect x="945.3" y="255.8" width="21" height="3.5" rx="1.8" fill="#000" fill-opacity="0.22"/>
<rect x="972.2" y="255.8" width="21" height="3.5" rx="1.8" fill="#000" fill-opacity="0.16"/>
<rect x="999.4" y="255.8" width="21" height="3.5" rx="1.8" fill="#000" fill-opacity="0.16"/>
<rect x="1028.5" y="255.8" width="21" height="3.5" rx="1.8" fill="#000" fill-opacity="0.16"/>
</g></g>
<rect x="608.2" y="230.4" width="454.39999999999986" height="44.20000000000002" fill="none" stroke="#333" stroke-width="1.5"/>
<clipPath id="cl4"><rect x="608.2" y="278.5" width="454.39999999999986" height="44.5"/></clipPath>
<rect x="608.2" y="278.5" width="454.39999999999986" height="44.5" fill="#e1e1e1"/>
<g clip-path="url(#cl4)"><g filter="url(#bl2)">
<rect x="627.2" y="278.5" width="6" height="44.5" fill="#f0f0f0"/>
<rect x="651.0" y="278.5" width="6" height="44.5" fill="#f0f0f0"/>
<rect x="677.6" y="278.5" width="6" height="44.5" fill="#f0f0f0"/>
<rect x="703.6" y="278.5" width="6" height="44.5" fill="#f0f0f0"/>
<rect x="729.2" y="278.5" width="6" height="44.5" fill="#f0f0f0"/>
<rect x="755.2" y="278.5" width="6" height="44.5" fill="#f0f0f0"/>
<rect x="781.2" y="278.5" width="6" height="44.5" fill="#f0f0f0"/>
<rect x="807.4" y="278.5" width="6" height="44.5" fill="#f0f0f0"/>
<rect x="834.2" y="278.5" width="6" height="44.5" fill="#f0f0f0"/>
<rect x="860.8" y="278.5" width="6" height="44.5" fill="#f0f0f0"/>
<rect x="886.5" y="278.5" width="6" height="44.5" fill="#f0f0f0"/>
<rect x="912.6" y="278.5" width="6" height="44.5" fill="#f0f0f0"/>
<rect x="939.4" y="278.5" width="6" height="44.5" fill="#f0f0f0"/>
<rect x="966.2" y="278.5" width="6" height="44.5" fill="#f0f0f0"/>
<rect x="993.3" y="278.5" width="6" height="44.5" fill="#f0f0f0"/>
<rect x="1021.5" y="278.5" width="6" height="44.5" fill="#f0f0f0"/>
</g>
<g filter="url(#bl1)">
<rect x="614.0" y="292.0" width="12" height="8" rx="4.0" fill="#000" fill-opacity="0.8"/>
<rect x="614.5" y="313.0" width="11" height="7" rx="3.5" fill="#000" fill-opacity="0.6"/>
<rect x="628.5" y="301.2" width="24" height="4.5" rx="2.2" fill="#000" fill-opacity="0.9"/>
<rect x="655.5" y="301.2" width="24" height="4.5" rx="2.2" fill="#000" fill-opacity="0.9"/>
<rect x="681.8" y="301.2" width="24" height="4.5" rx="2.2" fill="#000" fill-opacity="0.9"/>
<rect x="707.5" y="301.2" width="24" height="4.5" rx="2.2" fill="#000" fill-opacity="0.9"/>
<rect x="733.0" y="301.2" width="24" height="4.5" rx="2.2" fill="#000" fill-opacity="0.9"/>
<rect x="759.5" y="301.2" width="24" height="4.5" rx="2.2" fill="#000" fill-opacity="0.9"/>
<rect x="785.0" y="301.2" width="24" height="4.5" rx="2.2" fill="#000" fill-opacity="0.9"/>
<rect x="811.7" y="301.2" width="24" height="4.5" rx="2.2" fill="#000" fill-opacity="0.9"/>
<rect x="838.8" y="301.2" width="24" height="4.5" rx="2.2" fill="#000" fill-opacity="0.9"/>
<rect x="864.8" y="301.2" width="24" height="4.5" rx="2.2" fill="#000" fill-opacity="0.9"/>
<rect x="890.3" y="301.2" width="24" height="4.5" rx="2.2" fill="#000" fill-opacity="0.9"/>
<rect x="917.0" y="301.2" width="24" height="4.5" rx="2.2" fill="#000" fill-opacity="0.9"/>
<rect x="943.8" y="301.8" width="24" height="4.5" rx="2.2" fill="#000" fill-opacity="1.0"/>
<rect x="970.7" y="301.8" width="24" height="4.5" rx="2.2" fill="#000" fill-opacity="1.0"/>
<rect x="997.9" y="301.8" width="24" height="4.5" rx="2.2" fill="#000" fill-opacity="1.0"/>
<rect x="1027.0" y="301.8" width="24" height="4.5" rx="2.2" fill="#000" fill-opacity="1.0"/>
</g></g>
<rect x="608.2" y="278.5" width="454.39999999999986" height="44.5" fill="none" stroke="#333" stroke-width="1.5"/>
<clipPath id="cl5"><rect x="608.2" y="327.7" width="454.39999999999986" height="42.60000000000002"/></clipPath>
<rect x="608.2" y="327.7" width="454.39999999999986" height="42.60000000000002" fill="#e1e1e1"/>
<g clip-path="url(#cl5)"><g filter="url(#bl2)">
<rect x="627.2" y="327.7" width="6" height="42.60000000000002" fill="#f0f0f0"/>
<rect x="651.0" y="327.7" width="6" height="42.60000000000002" fill="#f0f0f0"/>
<rect x="677.6" y="327.7" width="6" height="42.60000000000002" fill="#f0f0f0"/>
<rect x="703.6" y="327.7" width="6" height="42.60000000000002" fill="#f0f0f0"/>
<rect x="729.2" y="327.7" width="6" height="42.60000000000002" fill="#f0f0f0"/>
<rect x="755.2" y="327.7" width="6" height="42.60000000000002" fill="#f0f0f0"/>
<rect x="781.2" y="327.7" width="6" height="42.60000000000002" fill="#f0f0f0"/>
<rect x="807.4" y="327.7" width="6" height="42.60000000000002" fill="#f0f0f0"/>
<rect x="834.2" y="327.7" width="6" height="42.60000000000002" fill="#f0f0f0"/>
<rect x="860.8" y="327.7" width="6" height="42.60000000000002" fill="#f0f0f0"/>
<rect x="886.5" y="327.7" width="6" height="42.60000000000002" fill="#f0f0f0"/>
<rect x="912.6" y="327.7" width="6" height="42.60000000000002" fill="#f0f0f0"/>
<rect x="939.4" y="327.7" width="6" height="42.60000000000002" fill="#f0f0f0"/>
<rect x="966.2" y="327.7" width="6" height="42.60000000000002" fill="#f0f0f0"/>
<rect x="993.3" y="327.7" width="6" height="42.60000000000002" fill="#f0f0f0"/>
<rect x="1021.5" y="327.7" width="6" height="42.60000000000002" fill="#f0f0f0"/>
</g>
<g filter="url(#bl1)">
<rect x="614.0" y="328.0" width="12" height="6" rx="3.0" fill="#000" fill-opacity="0.1"/>
<rect x="614.0" y="352.0" width="12" height="8" rx="4.0" fill="#000" fill-opacity="0.12"/>
<rect x="629.5" y="327.5" width="22" height="9" rx="3.0" fill="#000" fill-opacity="0.5"/>
<rect x="628.5" y="341.0" width="24" height="10" rx="3.0" fill="#000" fill-opacity="1.0"/>
<rect x="656.5" y="327.5" width="22" height="9" rx="3.0" fill="#000" fill-opacity="0.5"/>
<rect x="655.5" y="341.0" width="24" height="10" rx="3.0" fill="#000" fill-opacity="1.0"/>
<rect x="682.8" y="327.5" width="22" height="9" rx="3.0" fill="#000" fill-opacity="0.5"/>
<rect x="681.8" y="341.0" width="24" height="10" rx="3.0" fill="#000" fill-opacity="1.0"/>
<rect x="708.5" y="327.5" width="22" height="9" rx="3.0" fill="#000" fill-opacity="0.5"/>
<rect x="707.5" y="341.0" width="24" height="10" rx="3.0" fill="#000" fill-opacity="1.0"/>
<rect x="734.0" y="327.5" width="22" height="9" rx="3.0" fill="#000" fill-opacity="0.5"/>
<rect x="733.0" y="341.0" width="24" height="10" rx="3.0" fill="#000" fill-opacity="1.0"/>
<rect x="760.5" y="327.5" width="22" height="9" rx="3.0" fill="#000" fill-opacity="0.5"/>
<rect x="759.5" y="341.0" width="24" height="10" rx="3.0" fill="#000" fill-opacity="1.0"/>
<rect x="786.0" y="327.5" width="22" height="9" rx="3.0" fill="#000" fill-opacity="0.5"/>
<rect x="785.0" y="341.0" width="24" height="10" rx="3.0" fill="#000" fill-opacity="1.0"/>
<rect x="812.7" y="327.5" width="22" height="9" rx="3.0" fill="#000" fill-opacity="0.5"/>
<rect x="811.7" y="341.0" width="24" height="10" rx="3.0" fill="#000" fill-opacity="1.0"/>
<rect x="839.8" y="328.0" width="22" height="10" rx="3.0" fill="#000" fill-opacity="0.5"/>
<rect x="838.8" y="343.2" width="24" height="9" rx="3.0" fill="#000" fill-opacity="1.0"/>
<rect x="865.8" y="328.0" width="22" height="10" rx="3.0" fill="#000" fill-opacity="0.5"/>
<rect x="864.8" y="343.2" width="24" height="9" rx="3.0" fill="#000" fill-opacity="1.0"/>
<rect x="891.3" y="328.0" width="22" height="10" rx="3.0" fill="#000" fill-opacity="0.5"/>
<rect x="890.3" y="343.2" width="24" height="9" rx="3.0" fill="#000" fill-opacity="1.0"/>
<rect x="918.0" y="328.0" width="22" height="10" rx="3.0" fill="#000" fill-opacity="0.5"/>
<rect x="917.0" y="343.2" width="24" height="9" rx="3.0" fill="#000" fill-opacity="1.0"/>
<rect x="943.8" y="327.5" width="24" height="13" rx="3.0" fill="#000" fill-opacity="0.55"/>
<rect x="943.3" y="344.5" width="25" height="10" rx="3.0" fill="#000" fill-opacity="1.0"/>
<rect x="970.7" y="327.5" width="24" height="13" rx="3.0" fill="#000" fill-opacity="0.55"/>
<rect x="970.2" y="344.5" width="25" height="10" rx="3.0" fill="#000" fill-opacity="1.0"/>
<rect x="997.9" y="327.5" width="24" height="13" rx="3.0" fill="#000" fill-opacity="0.55"/>
<rect x="997.4" y="344.5" width="25" height="10" rx="3.0" fill="#000" fill-opacity="1.0"/>
<rect x="1027.0" y="327.5" width="24" height="13" rx="3.0" fill="#000" fill-opacity="0.55"/>
<rect x="1026.5" y="344.5" width="25" height="10" rx="3.0" fill="#000" fill-opacity="1.0"/>
</g></g>
<rect x="608.2" y="327.7" width="454.39999999999986" height="42.60000000000002" fill="none" stroke="#333" stroke-width="1.5"/>
<text x="202.8" y="40.0" font-size="21.5" text-anchor="middle" font-weight="bold" fill="#000" stroke="#000" stroke-width="0" >WT</text>
<text x="310.0" y="40.0" font-size="21.5" text-anchor="middle" font-weight="bold" fill="#000" stroke="#000" stroke-width="0" >RCKI</text>
<text x="412.6" y="40.0" font-size="21.5" text-anchor="middle" font-weight="bold" fill="#000" stroke="#000" stroke-width="0" >GSKI</text>
<text x="513.2" y="40.0" font-size="21.5" text-anchor="middle" font-weight="bold" fill="#000" stroke="#000" stroke-width="0" >KO</text>
<text x="690.9" y="40.0" font-size="21.5" text-anchor="middle" font-weight="bold" fill="#000" stroke="#000" stroke-width="0" >WT</text>
<text x="798.3" y="40.0" font-size="21.5" text-anchor="middle" font-weight="bold" fill="#000" stroke="#000" stroke-width="0" >RCKI</text>
<text x="900.8" y="40.0" font-size="21.5" text-anchor="middle" font-weight="bold" fill="#000" stroke="#000" stroke-width="0" >GSKI</text>
<text x="1001.7" y="40.0" font-size="21.5" text-anchor="middle" font-weight="bold" fill="#000" stroke="#000" stroke-width="0" >KO</text>
<line x1="157.4" y1="48.8" x2="246.1" y2="48.8" stroke="#111" stroke-width="2.2"/>
<line x1="259.2" y1="48.8" x2="351.8" y2="48.8" stroke="#111" stroke-width="2.2"/>
<line x1="365.5" y1="48.8" x2="455.4" y2="48.8" stroke="#111" stroke-width="2.2"/>
<line x1="470.0" y1="48.8" x2="560.0" y2="48.8" stroke="#111" stroke-width="2.2"/>
<line x1="645.9" y1="48.8" x2="734.4" y2="48.8" stroke="#111" stroke-width="2.2"/>
<line x1="747.3" y1="48.8" x2="840.0" y2="48.8" stroke="#111" stroke-width="2.2"/>
<line x1="854.0" y1="48.8" x2="943.2" y2="48.8" stroke="#111" stroke-width="2.2"/>
<line x1="958.8" y1="48.8" x2="1047.8" y2="48.8" stroke="#111" stroke-width="2.2"/>
<text x="131.5" y="75.6" font-size="18.5" text-anchor="middle" font-weight="normal" fill="#2a2a2a" stroke="#2a2a2a" stroke-width="0.35" >M</text>
<text x="621.2" y="74.0" font-size="18.5" text-anchor="middle" font-weight="normal" fill="#2a2a2a" stroke="#2a2a2a" stroke-width="0.35" >M</text>
<text x="158.5" y="75.6" font-size="18.5" text-anchor="middle" font-weight="normal" fill="#2a2a2a" stroke="#2a2a2a" stroke-width="0.35" >1</text>
<text x="184.3" y="75.6" font-size="18.5" text-anchor="middle" font-weight="normal" fill="#2a2a2a" stroke="#2a2a2a" stroke-width="0.35" >2</text>
<text x="209.4" y="75.6" font-size="18.5" text-anchor="middle" font-weight="normal" fill="#2a2a2a" stroke="#2a2a2a" stroke-width="0.35" >3</text>
<text x="234.8" y="75.6" font-size="18.5" text-anchor="middle" font-weight="normal" fill="#2a2a2a" stroke="#2a2a2a" stroke-width="0.35" >4</text>
<text x="265.0" y="75.6" font-size="18.5" text-anchor="middle" font-weight="normal" fill="#2a2a2a" stroke="#2a2a2a" stroke-width="0.35" >1</text>
<text x="290.7" y="75.6" font-size="18.5" text-anchor="middle" font-weight="normal" fill="#2a2a2a" stroke="#2a2a2a" stroke-width="0.35" >2</text>
<text x="316.2" y="75.6" font-size="18.5" text-anchor="middle" font-weight="normal" fill="#2a2a2a" stroke="#2a2a2a" stroke-width="0.35" >3</text>
<text x="340.8" y="75.6" font-size="18.5" text-anchor="middle" font-weight="normal" fill="#2a2a2a" stroke="#2a2a2a" stroke-width="0.35" >4</text>
<text x="367.8" y="75.6" font-size="18.5" text-anchor="middle" font-weight="normal" fill="#2a2a2a" stroke="#2a2a2a" stroke-width="0.35" >1</text>
<text x="393.0" y="75.6" font-size="18.5" text-anchor="middle" font-weight="normal" fill="#2a2a2a" stroke="#2a2a2a" stroke-width="0.35" >2</text>
<text x="419.0" y="75.6" font-size="18.5" text-anchor="middle" font-weight="normal" fill="#2a2a2a" stroke="#2a2a2a" stroke-width="0.35" >3</text>
<text x="443.8" y="75.6" font-size="18.5" text-anchor="middle" font-weight="normal" fill="#2a2a2a" stroke="#2a2a2a" stroke-width="0.35" >4</text>
<text x="472.0" y="75.6" font-size="18.5" text-anchor="middle" font-weight="normal" fill="#2a2a2a" stroke="#2a2a2a" stroke-width="0.35" >1</text>
<text x="498.3" y="75.6" font-size="18.5" text-anchor="middle" font-weight="normal" fill="#2a2a2a" stroke="#2a2a2a" stroke-width="0.35" >2</text>
<text x="523.5" y="75.6" font-size="18.5" text-anchor="middle" font-weight="normal" fill="#2a2a2a" stroke="#2a2a2a" stroke-width="0.35" >3</text>
<text x="548.5" y="75.6" font-size="18.5" text-anchor="middle" font-weight="normal" fill="#2a2a2a" stroke="#2a2a2a" stroke-width="0.35" >4</text>
<text x="647.0" y="75.0" font-size="18.5" text-anchor="middle" font-weight="normal" fill="#2a2a2a" stroke="#2a2a2a" stroke-width="0.35" >1</text>
<text x="672.6" y="75.0" font-size="18.5" text-anchor="middle" font-weight="normal" fill="#2a2a2a" stroke="#2a2a2a" stroke-width="0.35" >2</text>
<text x="697.4" y="75.0" font-size="18.5" text-anchor="middle" font-weight="normal" fill="#2a2a2a" stroke="#2a2a2a" stroke-width="0.35" >3</text>
<text x="722.7" y="75.0" font-size="18.5" text-anchor="middle" font-weight="normal" fill="#2a2a2a" stroke="#2a2a2a" stroke-width="0.35" >4</text>
<text x="752.4" y="75.0" font-size="18.5" text-anchor="middle" font-weight="normal" fill="#2a2a2a" stroke="#2a2a2a" stroke-width="0.35" >1</text>
<text x="778.8" y="75.0" font-size="18.5" text-anchor="middle" font-weight="normal" fill="#2a2a2a" stroke="#2a2a2a" stroke-width="0.35" >2</text>
<text x="803.4" y="75.0" font-size="18.5" text-anchor="middle" font-weight="normal" fill="#2a2a2a" stroke="#2a2a2a" stroke-width="0.35" >3</text>
<text x="828.7" y="75.0" font-size="18.5" text-anchor="middle" font-weight="normal" fill="#2a2a2a" stroke="#2a2a2a" stroke-width="0.35" >4</text>
<text x="855.8" y="75.0" font-size="18.5" text-anchor="middle" font-weight="normal" fill="#2a2a2a" stroke="#2a2a2a" stroke-width="0.35" >1</text>
<text x="881.6" y="75.0" font-size="18.5" text-anchor="middle" font-weight="normal" fill="#2a2a2a" stroke="#2a2a2a" stroke-width="0.35" >2</text>
<text x="906.0" y="75.0" font-size="18.5" text-anchor="middle" font-weight="normal" fill="#2a2a2a" stroke="#2a2a2a" stroke-width="0.35" >3</text>
<text x="931.6" y="75.0" font-size="18.5" text-anchor="middle" font-weight="normal" fill="#2a2a2a" stroke="#2a2a2a" stroke-width="0.35" >4</text>
<text x="960.5" y="75.0" font-size="18.5" text-anchor="middle" font-weight="normal" fill="#2a2a2a" stroke="#2a2a2a" stroke-width="0.35" >1</text>
<text x="986.0" y="75.0" font-size="18.5" text-anchor="middle" font-weight="normal" fill="#2a2a2a" stroke="#2a2a2a" stroke-width="0.35" >2</text>
<text x="1011.7" y="75.0" font-size="18.5" text-anchor="middle" font-weight="normal" fill="#2a2a2a" stroke="#2a2a2a" stroke-width="0.35" >3</text>
<text x="1036.6" y="75.0" font-size="18.5" text-anchor="middle" font-weight="normal" fill="#2a2a2a" stroke="#2a2a2a" stroke-width="0.35" >4</text>
<text x="41.29" y="107.23" font-size="18.60" font-weight="normal" fill="#1a1a1a" textLength="46.18" lengthAdjust="spacingAndGlyphs" stroke="#1a1a1a" stroke-width="0.35" >Lrrk2</text>
<text x="7.50" y="129.33" font-size="18.60" font-weight="normal" fill="#1a1a1a" textLength="83.00" lengthAdjust="spacingAndGlyphs" stroke="#1a1a1a" stroke-width="0.35" >(pS1292)</text>
<text x="41.29" y="155.43" font-size="18.60" font-weight="normal" fill="#1a1a1a" textLength="46.18" lengthAdjust="spacingAndGlyphs" stroke="#1a1a1a" stroke-width="0.35" >Lrrk2</text>
<text x="17.61" y="178.53" font-size="18.60" font-weight="normal" fill="#1a1a1a" textLength="71.18" lengthAdjust="spacingAndGlyphs" stroke="#1a1a1a" stroke-width="0.35" >(pS935)</text>
<text x="41.29" y="207.43" font-size="18.60" font-weight="normal" fill="#1a1a1a" textLength="46.18" lengthAdjust="spacingAndGlyphs" stroke="#1a1a1a" stroke-width="0.35" >Lrrk2</text>
<text x="39.41" y="226.53" font-size="18.60" font-weight="normal" fill="#1a1a1a" textLength="51.08" lengthAdjust="spacingAndGlyphs" stroke="#1a1a1a" stroke-width="0.35" >(total)</text>
<text x="34.19" y="258.43" font-size="18.60" font-weight="normal" fill="#1a1a1a" textLength="52.35" lengthAdjust="spacingAndGlyphs" stroke="#1a1a1a" stroke-width="0.35" >Rab10</text>
<text x="29.10" y="277.43" font-size="18.60" font-weight="normal" fill="#1a1a1a" textLength="59.19" lengthAdjust="spacingAndGlyphs" stroke="#1a1a1a" stroke-width="0.35" >(pT73)</text>
<text x="34.19" y="305.43" font-size="18.60" font-weight="normal" fill="#1a1a1a" textLength="52.35" lengthAdjust="spacingAndGlyphs" stroke="#1a1a1a" stroke-width="0.35" >Rab10</text>
<text x="33.81" y="324.43" font-size="18.60" font-weight="normal" fill="#1a1a1a" textLength="51.08" lengthAdjust="spacingAndGlyphs" stroke="#1a1a1a" stroke-width="0.35" >(total)</text>
<text x="36.18" y="350.23" font-size="18.60" font-weight="normal" fill="#1a1a1a" textLength="50.76" lengthAdjust="spacingAndGlyphs" stroke="#1a1a1a" stroke-width="0.35" >&#946;-actin</text>
<path d="M94.6 104.0 L114.5 107.8 L94.6 111.6 Z" fill="#fff" stroke="#000" stroke-width="2.2" stroke-linejoin="miter"/>
<path d="M94.6 149.4 L114.5 153.2 L94.6 157.0 Z" fill="#fff" stroke="#000" stroke-width="2.2" stroke-linejoin="miter"/>
<path d="M94.6 199.0 L114.5 202.8 L94.6 206.6 Z" fill="#fff" stroke="#000" stroke-width="2.2" stroke-linejoin="miter"/>
<path d="M94.6 244.2 L114.5 248.0 L94.6 251.8 Z" fill="#fff" stroke="#000" stroke-width="2.2" stroke-linejoin="miter"/>
<path d="M94.6 295.8 L114.5 299.6 L94.6 303.4 Z" fill="#fff" stroke="#000" stroke-width="2.2" stroke-linejoin="miter"/>
<path d="M94.6 340.6 L114.5 344.4 L94.6 348.2 Z" fill="#fff" stroke="#000" stroke-width="2.2" stroke-linejoin="miter"/>
<text x="1076.09" y="84.60" font-size="15.80" font-weight="normal" fill="#1a1a1a" textLength="27.90" lengthAdjust="spacingAndGlyphs" stroke="#1a1a1a" stroke-width="0.35" font-style="italic" >kDa</text>
<line x1="1067.3" y1="109.7" x2="1072.3" y2="109.7" stroke="#1a1a1a" stroke-width="2.3"/>
<text x="1077.0" y="114.3" font-size="16.5" text-anchor="start" font-weight="normal" fill="#1a1a1a" stroke="#1a1a1a" stroke-width="0.35" >250</text>
<line x1="1067.3" y1="161.8" x2="1072.3" y2="161.8" stroke="#1a1a1a" stroke-width="2.3"/>
<text x="1077.0" y="166.4" font-size="16.5" text-anchor="start" font-weight="normal" fill="#1a1a1a" stroke="#1a1a1a" stroke-width="0.35" >250</text>
<line x1="1067.3" y1="208.6" x2="1072.3" y2="208.6" stroke="#1a1a1a" stroke-width="2.3"/>
<text x="1077.0" y="213.2" font-size="16.5" text-anchor="start" font-weight="normal" fill="#1a1a1a" stroke="#1a1a1a" stroke-width="0.35" >250</text>
<line x1="1067.3" y1="242.2" x2="1072.3" y2="242.2" stroke="#1a1a1a" stroke-width="2.3"/>
<text x="1077.0" y="246.8" font-size="16.5" text-anchor="start" font-weight="normal" fill="#1a1a1a" stroke="#1a1a1a" stroke-width="0.35" >25</text>
<line x1="1067.3" y1="291.8" x2="1072.3" y2="291.8" stroke="#1a1a1a" stroke-width="2.3"/>
<text x="1077.0" y="296.4" font-size="16.5" text-anchor="start" font-weight="normal" fill="#1a1a1a" stroke="#1a1a1a" stroke-width="0.35" >25</text>
<line x1="1067.3" y1="358.0" x2="1072.3" y2="358.0" stroke="#1a1a1a" stroke-width="2.3"/>
<text x="1077.0" y="362.6" font-size="16.5" text-anchor="start" font-weight="normal" fill="#1a1a1a" stroke="#1a1a1a" stroke-width="0.35" >37</text>
<g><rect x="106.63" y="541.92" width="4.00" height="3.38" fill="#fff"/><rect x="112.35" y="541.92" width="3.85" height="3.38" fill="#fff"/><rect x="106.63" y="619.92" width="4.00" height="3.38" fill="#fff"/><rect x="112.35" y="619.92" width="3.85" height="3.38" fill="#fff"/><g transform="translate(62.85,763.50) rotate(-90)"><rect x="26.38" y="-2.52" width="4.38" height="3.62" fill="#fff"/><rect x="32.71" y="-2.52" width="4.22" height="3.62" fill="#fff"/></g><rect x="593.52" y="791.32" width="4.00" height="3.38" fill="#fff"/><rect x="599.24" y="791.32" width="3.85" height="3.38" fill="#fff"/><rect x="835.93" y="666.82" width="4.00" height="3.38" fill="#fff"/><rect x="841.65" y="666.82" width="3.85" height="3.38" fill="#fff"/><rect x="835.93" y="729.32" width="4.00" height="3.38" fill="#fff"/><rect x="841.65" y="729.32" width="3.85" height="3.38" fill="#fff"/><g transform="translate(791.44,749.30) rotate(-90)"><rect x="92.74" y="-2.41" width="4.45" height="3.51" fill="#fff"/><rect x="99.14" y="-2.41" width="4.28" height="3.51" fill="#fff"/></g><rect x="106.63" y="1034.62" width="4.00" height="3.38" fill="#fff"/><rect x="112.35" y="1034.62" width="3.85" height="3.38" fill="#fff"/><g transform="translate(59.75,1257.41) rotate(-90)"><rect x="26.62" y="-2.52" width="4.42" height="3.62" fill="#fff"/><rect x="33.01" y="-2.52" width="4.26" height="3.62" fill="#fff"/></g><rect x="346.73" y="1191.12" width="4.00" height="3.38" fill="#fff"/><rect x="352.45" y="1191.12" width="3.85" height="3.38" fill="#fff"/><rect x="346.73" y="1243.02" width="4.00" height="3.38" fill="#fff"/><rect x="352.45" y="1243.02" width="3.85" height="3.38" fill="#fff"/><rect x="593.12" y="1267.82" width="4.00" height="3.38" fill="#fff"/><rect x="598.84" y="1267.82" width="3.85" height="3.38" fill="#fff"/><rect x="835.93" y="1037.02" width="4.00" height="3.38" fill="#fff"/><rect x="841.65" y="1037.02" width="3.85" height="3.38" fill="#fff"/><rect x="835.93" y="1140.52" width="4.00" height="3.38" fill="#fff"/><rect x="841.65" y="1140.52" width="3.85" height="3.38" fill="#fff"/><g transform="translate(804.79,1242.48) rotate(-90)"><rect x="91.18" y="-2.40" width="4.38" height="3.50" fill="#fff"/><rect x="97.48" y="-2.40" width="4.22" height="3.50" fill="#fff"/></g><rect x="153.96" y="73.32" width="4.00" height="3.38" fill="#fff"/><rect x="159.69" y="73.32" width="3.85" height="3.38" fill="#fff"/><rect x="260.46" y="73.32" width="4.00" height="3.38" fill="#fff"/><rect x="266.19" y="73.32" width="3.85" height="3.38" fill="#fff"/><rect x="363.26" y="73.32" width="4.00" height="3.38" fill="#fff"/><rect x="368.99" y="73.32" width="3.85" height="3.38" fill="#fff"/><rect x="467.46" y="73.32" width="4.00" height="3.38" fill="#fff"/><rect x="473.19" y="73.32" width="3.85" height="3.38" fill="#fff"/><rect x="642.46" y="72.72" width="4.00" height="3.38" fill="#fff"/><rect x="648.19" y="72.72" width="3.85" height="3.38" fill="#fff"/><rect x="747.86" y="72.72" width="4.00" height="3.38" fill="#fff"/><rect x="753.59" y="72.72" width="3.85" height="3.38" fill="#fff"/><rect x="851.26" y="72.72" width="4.00" height="3.38" fill="#fff"/><rect x="856.99" y="72.72" width="3.85" height="3.38" fill="#fff"/><rect x="955.96" y="72.72" width="4.00" height="3.38" fill="#fff"/><rect x="961.69" y="72.72" width="3.85" height="3.38" fill="#fff"/><rect x="39.57" y="127.04" width="4.36" height="3.39" fill="#fff"/><rect x="45.80" y="127.04" width="4.20" height="3.39" fill="#fff"/><rect x="67.37" y="256.14" width="3.83" height="3.39" fill="#fff"/><rect x="72.86" y="256.14" width="3.70" height="3.39" fill="#fff"/><rect x="67.37" y="303.14" width="3.83" height="3.39" fill="#fff"/><rect x="72.86" y="303.14" width="3.70" height="3.39" fill="#fff"/></g>
</svg></body></html>
